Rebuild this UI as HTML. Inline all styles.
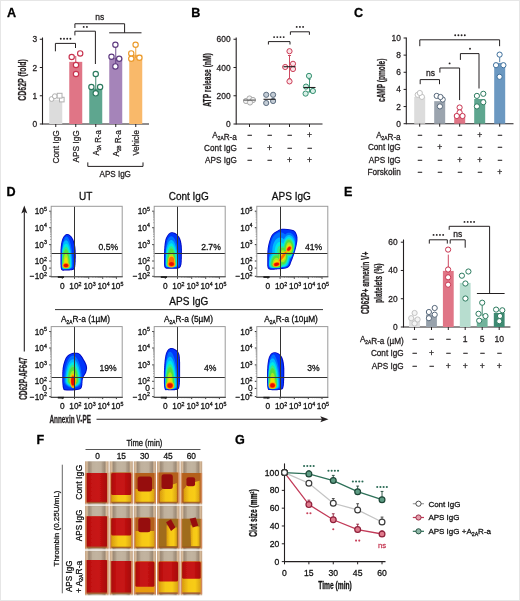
<!DOCTYPE html>
<html><head><meta charset="utf-8"><style>
html,body{margin:0;padding:0;background:#fff;}
svg{display:block;font-family:"Liberation Sans", sans-serif;will-change:transform;}
text{stroke-width:0.28px;stroke-linejoin:round;}
</style></head><body>
<svg width="520" height="601" viewBox="0 0 520 601" style="font-family:'Liberation Sans', sans-serif">
<defs>
<filter id="bl" x="-20%" y="-20%" width="140%" height="140%"><feGaussianBlur stdDeviation="0.6"/></filter>
<filter id="cb" x="-5%" y="-5%" width="110%" height="110%"><feGaussianBlur stdDeviation="0.45"/></filter>
<linearGradient id="tan" x1="0" x2="1" y1="0" y2="0">
<stop offset="0" stop-color="#c4a486"/><stop offset="0.09" stop-color="#d8bc9c"/><stop offset="0.16" stop-color="#9c8a76"/><stop offset="0.3" stop-color="#b6a692"/><stop offset="0.5" stop-color="#bcae9a"/><stop offset="0.7" stop-color="#b6a692"/><stop offset="0.84" stop-color="#9c8a76"/><stop offset="0.91" stop-color="#d8bc9c"/><stop offset="1" stop-color="#c0a082"/></linearGradient>
<linearGradient id="red" x1="0" x2="1" y1="0" y2="0">
<stop offset="0" stop-color="#a80a0a"/><stop offset="0.25" stop-color="#c41212"/><stop offset="0.6" stop-color="#c81414"/><stop offset="1" stop-color="#a60808"/></linearGradient>
<linearGradient id="yel" x1="0" x2="1" y1="0" y2="0">
<stop offset="0" stop-color="#d89a10"/><stop offset="0.35" stop-color="#f6c814"/><stop offset="0.7" stop-color="#f8cc18"/><stop offset="1" stop-color="#d8a010"/></linearGradient>
<linearGradient id="glass" x1="0" x2="1" y1="0" y2="0">
<stop offset="0" stop-color="#b8a48e"/><stop offset="0.5" stop-color="#cbbcac"/><stop offset="1" stop-color="#b8a48e"/></linearGradient>
</defs>
<rect x="0" y="0" width="520" height="601" fill="#fff"/>
<text x="7.00" y="16.70" font-size="12.6" text-anchor="start" font-weight="bold" fill="#000" stroke="#000" >A</text>
<line x1="42.50" y1="37.50" x2="42.50" y2="124.50" stroke="#231f20" stroke-width="1.1" />
<line x1="42.50" y1="124.00" x2="149.00" y2="124.00" stroke="#231f20" stroke-width="1.1" />
<line x1="39.80" y1="124.00" x2="42.50" y2="124.00" stroke="#231f20" stroke-width="1.0" />
<text x="37.20" y="127.00" font-size="8.4" text-anchor="end" font-weight="normal" fill="#231f20" stroke="#231f20" >0</text>
<line x1="39.80" y1="95.75" x2="42.50" y2="95.75" stroke="#231f20" stroke-width="1.0" />
<text x="37.20" y="98.75" font-size="8.4" text-anchor="end" font-weight="normal" fill="#231f20" stroke="#231f20" >1</text>
<line x1="39.80" y1="67.50" x2="42.50" y2="67.50" stroke="#231f20" stroke-width="1.0" />
<text x="37.20" y="70.50" font-size="8.4" text-anchor="end" font-weight="normal" fill="#231f20" stroke="#231f20" >2</text>
<line x1="39.80" y1="39.25" x2="42.50" y2="39.25" stroke="#231f20" stroke-width="1.0" />
<text x="37.20" y="42.25" font-size="8.4" text-anchor="end" font-weight="normal" fill="#231f20" stroke="#231f20" >3</text>
<text x="26.40" y="79.90" font-size="11" text-anchor="middle" font-weight="bold" fill="#231f20" stroke="#231f20" transform="rotate(-90 26.40 79.90)" textLength="41.6" lengthAdjust="spacingAndGlyphs" >CD62P (fold)</text>
<rect x="49.25" y="99.70" width="13.00" height="24.30" fill="#dcdcdc" />
<line x1="55.75" y1="124.00" x2="55.75" y2="127.00" stroke="#231f20" stroke-width="1.0" />
<rect x="69.25" y="61.85" width="13.00" height="62.15" fill="#e07586" />
<line x1="75.75" y1="124.00" x2="75.75" y2="127.00" stroke="#231f20" stroke-width="1.0" />
<rect x="89.25" y="88.69" width="13.00" height="35.31" fill="#5ea68f" />
<line x1="95.75" y1="124.00" x2="95.75" y2="127.00" stroke="#231f20" stroke-width="1.0" />
<rect x="109.25" y="57.89" width="13.00" height="66.11" fill="#a584b9" />
<line x1="115.75" y1="124.00" x2="115.75" y2="127.00" stroke="#231f20" stroke-width="1.0" />
<rect x="129.25" y="54.79" width="13.00" height="69.21" fill="#f9b96a" />
<line x1="135.75" y1="124.00" x2="135.75" y2="127.00" stroke="#231f20" stroke-width="1.0" />
<circle cx="51.60" cy="99.00" r="2.40" stroke="#b0b0b0" stroke-width="1.0" fill="#fff"/>
<circle cx="54.80" cy="96.20" r="2.40" stroke="#b0b0b0" stroke-width="1.0" fill="#fff"/>
<line x1="75.75" y1="56.00" x2="75.75" y2="66.00" stroke="#c8334f" stroke-width="0.9" />
<circle cx="80.20" cy="53.40" r="2.65" stroke="#c8334f" stroke-width="1.15" fill="#fff"/>
<circle cx="71.70" cy="57.00" r="2.65" stroke="#c8334f" stroke-width="1.15" fill="#fff"/>
<circle cx="76.00" cy="65.00" r="2.65" stroke="#c8334f" stroke-width="1.15" fill="#fff"/>
<circle cx="76.00" cy="74.00" r="2.65" stroke="#c8334f" stroke-width="1.15" fill="#fff"/>
<line x1="95.75" y1="74.00" x2="95.75" y2="95.00" stroke="#2b7a5e" stroke-width="0.9" />
<circle cx="95.75" cy="74.00" r="2.65" stroke="#2b7a5e" stroke-width="1.15" fill="#fff"/>
<circle cx="91.40" cy="87.00" r="2.65" stroke="#2b7a5e" stroke-width="1.15" fill="#fff"/>
<circle cx="100.10" cy="87.00" r="2.65" stroke="#2b7a5e" stroke-width="1.15" fill="#fff"/>
<circle cx="95.75" cy="93.30" r="2.65" stroke="#2b7a5e" stroke-width="1.15" fill="#fff"/>
<line x1="115.75" y1="44.70" x2="115.75" y2="66.00" stroke="#5e3a80" stroke-width="0.9" />
<circle cx="115.40" cy="44.70" r="2.65" stroke="#5e3a80" stroke-width="1.15" fill="#fff"/>
<circle cx="111.50" cy="56.75" r="2.65" stroke="#5e3a80" stroke-width="1.15" fill="#fff"/>
<circle cx="119.20" cy="58.70" r="2.65" stroke="#5e3a80" stroke-width="1.15" fill="#fff"/>
<circle cx="115.40" cy="66.40" r="2.65" stroke="#5e3a80" stroke-width="1.15" fill="#fff"/>
<line x1="135.75" y1="44.70" x2="135.75" y2="58.00" stroke="#eb9a2a" stroke-width="0.9" />
<circle cx="135.60" cy="44.70" r="2.65" stroke="#eb9a2a" stroke-width="1.15" fill="#fff"/>
<circle cx="131.25" cy="53.40" r="2.65" stroke="#eb9a2a" stroke-width="1.15" fill="#fff"/>
<circle cx="139.40" cy="57.70" r="2.65" stroke="#eb9a2a" stroke-width="1.15" fill="#fff"/>
<circle cx="131.25" cy="58.70" r="2.65" stroke="#eb9a2a" stroke-width="1.15" fill="#fff"/>
<rect x="59.5" y="97.3" width="4.6" height="4.6" fill="#fff" stroke="#b0b0b0" stroke-width="1.0"/>
<rect x="57.2" y="93.3" width="4.8" height="4.8" fill="#fff" stroke="#b0b0b0" stroke-width="1.0"/>
<text x="58.95" y="130.20" font-size="8.6" text-anchor="end" font-weight="normal" fill="#231f20" stroke="#231f20" transform="rotate(-90 58.95 130.20)" textLength="33.4" lengthAdjust="spacingAndGlyphs" >Cont IgG</text>
<text x="78.95" y="130.20" font-size="8.6" text-anchor="end" font-weight="normal" fill="#231f20" stroke="#231f20" transform="rotate(-90 78.95 130.20)" textLength="32.4" lengthAdjust="spacingAndGlyphs" >APS IgG</text>
<text x="98.95" y="130.20" font-size="8.6" text-anchor="end" font-weight="normal" fill="#231f20" stroke="#231f20" transform="rotate(-90 98.95 130.20)" textLength="25.3" lengthAdjust="spacingAndGlyphs" >A<tspan font-size="4.8" dy="1.8">2A</tspan><tspan dy="-1.8"></tspan> R-a</text>
<text x="118.95" y="130.20" font-size="8.6" text-anchor="end" font-weight="normal" fill="#231f20" stroke="#231f20" transform="rotate(-90 118.95 130.20)" textLength="26.3" lengthAdjust="spacingAndGlyphs" >A<tspan font-size="4.8" dy="1.8">2B</tspan><tspan dy="-1.8"></tspan> R-a</text>
<text x="138.95" y="130.20" font-size="8.6" text-anchor="end" font-weight="normal" fill="#231f20" stroke="#231f20" transform="rotate(-90 138.95 130.20)" textLength="25.3" lengthAdjust="spacingAndGlyphs" >Vehicle</text>
<polyline points="87.80,162.40 87.80,166.40 143.00,166.40 143.00,162.40" stroke="#231f20" stroke-width="1.0" fill="none"/>
<text x="115.20" y="176.60" font-size="8.3" text-anchor="middle" font-weight="normal" fill="#231f20" stroke="#231f20" textLength="31.4" lengthAdjust="spacingAndGlyphs" >APS IgG</text>
<polyline points="55.40,51.30 55.40,43.40 75.50,43.40 75.50,48.00" stroke="#231f20" stroke-width="1.0" fill="none"/>
<circle cx="60.80" cy="38.80" r="0.95" fill="#231f20"/>
<circle cx="64.00" cy="38.80" r="0.95" fill="#231f20"/>
<circle cx="67.20" cy="38.80" r="0.95" fill="#231f20"/>
<circle cx="70.40" cy="38.80" r="0.95" fill="#231f20"/>
<polyline points="74.90,35.40 74.90,31.20 95.40,31.20 95.40,64.00" stroke="#231f20" stroke-width="1.0" fill="none"/>
<circle cx="83.70" cy="26.90" r="0.95" fill="#231f20"/>
<circle cx="86.90" cy="26.90" r="0.95" fill="#231f20"/>
<polyline points="74.90,28.00 74.90,23.75 124.60,23.75 124.60,32.80" stroke="#231f20" stroke-width="1.0" fill="none"/>
<line x1="109.20" y1="32.80" x2="141.50" y2="32.80" stroke="#231f20" stroke-width="1.0" />
<text x="99.70" y="20.30" font-size="8.5" text-anchor="middle" font-weight="normal" fill="#231f20" stroke="#231f20" >ns</text>
<text x="191.20" y="16.70" font-size="12.6" text-anchor="start" font-weight="bold" fill="#000" stroke="#000" >B</text>
<line x1="236.20" y1="37.50" x2="236.20" y2="124.50" stroke="#231f20" stroke-width="1.1" />
<line x1="236.20" y1="124.00" x2="322.50" y2="124.00" stroke="#231f20" stroke-width="1.1" />
<line x1="233.50" y1="124.00" x2="236.20" y2="124.00" stroke="#231f20" stroke-width="1.0" />
<text x="230.60" y="127.00" font-size="8.4" text-anchor="end" font-weight="normal" fill="#231f20" stroke="#231f20" >0</text>
<line x1="233.50" y1="95.75" x2="236.20" y2="95.75" stroke="#231f20" stroke-width="1.0" />
<text x="230.60" y="98.75" font-size="8.4" text-anchor="end" font-weight="normal" fill="#231f20" stroke="#231f20" >200</text>
<line x1="233.50" y1="67.50" x2="236.20" y2="67.50" stroke="#231f20" stroke-width="1.0" />
<text x="230.60" y="70.50" font-size="8.4" text-anchor="end" font-weight="normal" fill="#231f20" stroke="#231f20" >400</text>
<line x1="233.50" y1="39.25" x2="236.20" y2="39.25" stroke="#231f20" stroke-width="1.0" />
<text x="230.60" y="42.25" font-size="8.4" text-anchor="end" font-weight="normal" fill="#231f20" stroke="#231f20" >600</text>
<text x="210.60" y="80.00" font-size="11" text-anchor="middle" font-weight="bold" fill="#231f20" stroke="#231f20" transform="rotate(-90 210.60 80.00)" textLength="53.4" lengthAdjust="spacingAndGlyphs" >ATP release (nM)</text>
<line x1="249.50" y1="124.00" x2="249.50" y2="127.00" stroke="#231f20" stroke-width="1.0" />
<line x1="269.50" y1="124.00" x2="269.50" y2="127.00" stroke="#231f20" stroke-width="1.0" />
<line x1="289.50" y1="124.00" x2="289.50" y2="127.00" stroke="#231f20" stroke-width="1.0" />
<line x1="309.50" y1="124.00" x2="309.50" y2="127.00" stroke="#231f20" stroke-width="1.0" />
<circle cx="246.00" cy="101.00" r="2.60" stroke="#a8a8a8" stroke-width="0.95" fill="#f2f2f2"/>
<circle cx="249.50" cy="98.50" r="2.60" stroke="#a8a8a8" stroke-width="0.95" fill="#f2f2f2"/>
<circle cx="253.00" cy="100.00" r="2.60" stroke="#a8a8a8" stroke-width="0.95" fill="#f2f2f2"/>
<circle cx="250.00" cy="102.50" r="2.60" stroke="#a8a8a8" stroke-width="0.95" fill="#f2f2f2"/>
<line x1="243.50" y1="100.10" x2="255.50" y2="100.10" stroke="#555" stroke-width="1.1" />
<circle cx="266.20" cy="94.80" r="2.60" stroke="#56677a" stroke-width="0.95" fill="#c3ccd5"/>
<circle cx="273.10" cy="94.80" r="2.60" stroke="#56677a" stroke-width="0.95" fill="#c3ccd5"/>
<circle cx="266.20" cy="103.00" r="2.60" stroke="#56677a" stroke-width="0.95" fill="#c3ccd5"/>
<circle cx="273.10" cy="101.00" r="2.60" stroke="#56677a" stroke-width="0.95" fill="#c3ccd5"/>
<line x1="263.50" y1="99.30" x2="275.50" y2="99.30" stroke="#231f20" stroke-width="1.1" />
<line x1="289.50" y1="55.50" x2="289.50" y2="78.80" stroke="#c8354f" stroke-width="0.9" />
<line x1="288.00" y1="55.50" x2="291.00" y2="55.50" stroke="#c8354f" stroke-width="0.9" />
<line x1="288.00" y1="78.80" x2="291.00" y2="78.80" stroke="#c8354f" stroke-width="0.9" />
<circle cx="289.50" cy="51.20" r="2.60" stroke="#c8354f" stroke-width="0.95" fill="#fbe4e8"/>
<circle cx="293.00" cy="63.80" r="2.60" stroke="#c8354f" stroke-width="0.95" fill="#fbe4e8"/>
<circle cx="285.20" cy="67.00" r="2.60" stroke="#c8354f" stroke-width="0.95" fill="#fbe4e8"/>
<circle cx="293.00" cy="69.00" r="2.60" stroke="#c8354f" stroke-width="0.95" fill="#fbe4e8"/>
<circle cx="289.50" cy="81.40" r="2.60" stroke="#c8354f" stroke-width="0.95" fill="#fbe4e8"/>
<line x1="283.50" y1="66.70" x2="295.50" y2="66.70" stroke="#231f20" stroke-width="1.1" />
<line x1="309.50" y1="79.00" x2="309.50" y2="92.00" stroke="#2a8a68" stroke-width="0.9" />
<line x1="308.00" y1="79.00" x2="311.00" y2="79.00" stroke="#2a8a68" stroke-width="0.9" />
<line x1="308.00" y1="92.00" x2="311.00" y2="92.00" stroke="#2a8a68" stroke-width="0.9" />
<circle cx="309.00" cy="75.90" r="2.60" stroke="#2a8a68" stroke-width="0.95" fill="#d8efe7"/>
<circle cx="306.00" cy="86.60" r="2.60" stroke="#2a8a68" stroke-width="0.95" fill="#d8efe7"/>
<circle cx="312.90" cy="91.00" r="2.60" stroke="#2a8a68" stroke-width="0.95" fill="#d8efe7"/>
<circle cx="305.60" cy="93.60" r="2.60" stroke="#2a8a68" stroke-width="0.95" fill="#d8efe7"/>
<line x1="303.50" y1="87.50" x2="315.50" y2="87.50" stroke="#231f20" stroke-width="1.1" />
<polyline points="268.40,44.50 268.40,41.60 290.00,41.60 290.00,44.50" stroke="#231f20" stroke-width="1.0" fill="none"/>
<circle cx="274.10" cy="37.10" r="0.95" fill="#231f20"/>
<circle cx="277.30" cy="37.10" r="0.95" fill="#231f20"/>
<circle cx="280.50" cy="37.10" r="0.95" fill="#231f20"/>
<circle cx="283.70" cy="37.10" r="0.95" fill="#231f20"/>
<polyline points="290.40,34.80 290.40,31.80 309.40,31.80 309.40,34.80" stroke="#231f20" stroke-width="1.0" fill="none"/>
<circle cx="296.70" cy="26.90" r="0.95" fill="#231f20"/>
<circle cx="299.90" cy="26.90" r="0.95" fill="#231f20"/>
<circle cx="303.10" cy="26.90" r="0.95" fill="#231f20"/>
<text x="236.90" y="137.80" font-size="8.2" text-anchor="end" font-weight="normal" fill="#231f20" stroke="#231f20" >A<tspan font-size="4.8" dy="1.8">2A</tspan><tspan dy="-1.8"></tspan>R-a</text>
<text x="249.50" y="137.80" font-size="8.6" text-anchor="middle" font-weight="normal" fill="#231f20" stroke="#231f20" >−</text>
<text x="269.50" y="137.80" font-size="8.6" text-anchor="middle" font-weight="normal" fill="#231f20" stroke="#231f20" >−</text>
<text x="289.50" y="137.80" font-size="8.6" text-anchor="middle" font-weight="normal" fill="#231f20" stroke="#231f20" >−</text>
<text x="309.50" y="137.80" font-size="8.6" text-anchor="middle" font-weight="normal" fill="#231f20" stroke="#231f20" >+</text>
<text x="236.90" y="150.80" font-size="8.2" text-anchor="end" font-weight="normal" fill="#231f20" stroke="#231f20" >Cont IgG</text>
<text x="249.50" y="150.80" font-size="8.6" text-anchor="middle" font-weight="normal" fill="#231f20" stroke="#231f20" >−</text>
<text x="269.50" y="150.80" font-size="8.6" text-anchor="middle" font-weight="normal" fill="#231f20" stroke="#231f20" >+</text>
<text x="289.50" y="150.80" font-size="8.6" text-anchor="middle" font-weight="normal" fill="#231f20" stroke="#231f20" >−</text>
<text x="309.50" y="150.80" font-size="8.6" text-anchor="middle" font-weight="normal" fill="#231f20" stroke="#231f20" >−</text>
<text x="236.90" y="163.30" font-size="8.2" text-anchor="end" font-weight="normal" fill="#231f20" stroke="#231f20" >APS IgG</text>
<text x="249.50" y="163.30" font-size="8.6" text-anchor="middle" font-weight="normal" fill="#231f20" stroke="#231f20" >−</text>
<text x="269.50" y="163.30" font-size="8.6" text-anchor="middle" font-weight="normal" fill="#231f20" stroke="#231f20" >−</text>
<text x="289.50" y="163.30" font-size="8.6" text-anchor="middle" font-weight="normal" fill="#231f20" stroke="#231f20" >+</text>
<text x="309.50" y="163.30" font-size="8.6" text-anchor="middle" font-weight="normal" fill="#231f20" stroke="#231f20" >+</text>
<text x="354.00" y="16.70" font-size="12.6" text-anchor="start" font-weight="bold" fill="#000" stroke="#000" >C</text>
<line x1="406.30" y1="37.50" x2="406.30" y2="124.20" stroke="#231f20" stroke-width="1.1" />
<line x1="406.30" y1="123.70" x2="513.50" y2="123.70" stroke="#231f20" stroke-width="1.1" />
<line x1="403.60" y1="123.70" x2="406.30" y2="123.70" stroke="#231f20" stroke-width="1.0" />
<text x="400.90" y="126.70" font-size="8.4" text-anchor="end" font-weight="normal" fill="#231f20" stroke="#231f20" >0</text>
<line x1="403.60" y1="106.56" x2="406.30" y2="106.56" stroke="#231f20" stroke-width="1.0" />
<text x="400.90" y="109.56" font-size="8.4" text-anchor="end" font-weight="normal" fill="#231f20" stroke="#231f20" >2</text>
<line x1="403.60" y1="89.42" x2="406.30" y2="89.42" stroke="#231f20" stroke-width="1.0" />
<text x="400.90" y="92.42" font-size="8.4" text-anchor="end" font-weight="normal" fill="#231f20" stroke="#231f20" >4</text>
<line x1="403.60" y1="72.28" x2="406.30" y2="72.28" stroke="#231f20" stroke-width="1.0" />
<text x="400.90" y="75.28" font-size="8.4" text-anchor="end" font-weight="normal" fill="#231f20" stroke="#231f20" >6</text>
<line x1="403.60" y1="55.14" x2="406.30" y2="55.14" stroke="#231f20" stroke-width="1.0" />
<text x="400.90" y="58.14" font-size="8.4" text-anchor="end" font-weight="normal" fill="#231f20" stroke="#231f20" >8</text>
<line x1="403.60" y1="38.00" x2="406.30" y2="38.00" stroke="#231f20" stroke-width="1.0" />
<text x="400.90" y="41.00" font-size="8.4" text-anchor="end" font-weight="normal" fill="#231f20" stroke="#231f20" >10</text>
<text x="385.50" y="80.30" font-size="11" text-anchor="middle" font-weight="bold" fill="#231f20" stroke="#231f20" transform="rotate(-90 385.50 80.30)" textLength="43.3" lengthAdjust="spacingAndGlyphs" >cAMP (pmole)</text>
<rect x="414.20" y="96.88" width="11.00" height="26.82" fill="#dcdcdc" />
<line x1="419.70" y1="123.70" x2="419.70" y2="126.70" stroke="#231f20" stroke-width="1.0" />
<circle cx="417.70" cy="94.80" r="2.60" stroke="#c0c0c0" stroke-width="1.0" fill="#fff"/>
<circle cx="421.90" cy="96.90" r="2.60" stroke="#c0c0c0" stroke-width="1.0" fill="#fff"/>
<circle cx="419.80" cy="93.00" r="2.60" stroke="#c0c0c0" stroke-width="1.0" fill="#fff"/>
<rect x="434.20" y="101.16" width="11.00" height="22.54" fill="#9ba4ae" />
<line x1="439.70" y1="123.70" x2="439.70" y2="126.70" stroke="#231f20" stroke-width="1.0" />
<circle cx="436.70" cy="95.90" r="2.60" stroke="#56677a" stroke-width="1.0" fill="#fff"/>
<circle cx="442.70" cy="99.50" r="2.60" stroke="#56677a" stroke-width="1.0" fill="#fff"/>
<circle cx="439.90" cy="106.40" r="2.60" stroke="#56677a" stroke-width="1.0" fill="#fff"/>
<circle cx="440.50" cy="97.00" r="2.60" stroke="#56677a" stroke-width="1.0" fill="#fff"/>
<rect x="454.20" y="113.93" width="11.00" height="9.77" fill="#e07586" />
<line x1="459.70" y1="123.70" x2="459.70" y2="126.70" stroke="#231f20" stroke-width="1.0" />
<circle cx="459.60" cy="107.50" r="2.60" stroke="#c8334f" stroke-width="1.0" fill="#fff"/>
<circle cx="459.60" cy="112.40" r="2.60" stroke="#c8334f" stroke-width="1.0" fill="#fff"/>
<circle cx="456.80" cy="116.00" r="2.60" stroke="#c8334f" stroke-width="1.0" fill="#fff"/>
<circle cx="462.50" cy="116.00" r="2.60" stroke="#c8334f" stroke-width="1.0" fill="#fff"/>
<rect x="474.20" y="99.02" width="11.00" height="24.68" fill="#5ea68f" />
<line x1="479.70" y1="123.70" x2="479.70" y2="126.70" stroke="#231f20" stroke-width="1.0" />
<circle cx="476.90" cy="95.90" r="2.60" stroke="#2b7a5e" stroke-width="1.0" fill="#fff"/>
<circle cx="483.30" cy="93.80" r="2.60" stroke="#2b7a5e" stroke-width="1.0" fill="#fff"/>
<circle cx="483.30" cy="102.20" r="2.60" stroke="#2b7a5e" stroke-width="1.0" fill="#fff"/>
<circle cx="476.90" cy="106.40" r="2.60" stroke="#2b7a5e" stroke-width="1.0" fill="#fff"/>
<rect x="494.20" y="62.85" width="11.00" height="60.85" fill="#6b98c1" />
<line x1="499.70" y1="123.70" x2="499.70" y2="126.70" stroke="#231f20" stroke-width="1.0" />
<line x1="499.70" y1="52.00" x2="499.70" y2="62.00" stroke="#3d6f9c" stroke-width="0.9" />
<circle cx="499.60" cy="54.60" r="2.60" stroke="#3d6f9c" stroke-width="1.0" fill="#fff"/>
<circle cx="496.00" cy="65.20" r="2.60" stroke="#3d6f9c" stroke-width="1.0" fill="#fff"/>
<circle cx="503.40" cy="65.20" r="2.60" stroke="#3d6f9c" stroke-width="1.0" fill="#fff"/>
<circle cx="499.60" cy="76.80" r="2.60" stroke="#3d6f9c" stroke-width="1.0" fill="#fff"/>
<polyline points="419.80,46.20 419.80,39.80 499.60,39.80 499.60,46.20" stroke="#231f20" stroke-width="1.0" fill="none"/>
<circle cx="455.20" cy="35.30" r="0.95" fill="#231f20"/>
<circle cx="458.40" cy="35.30" r="0.95" fill="#231f20"/>
<circle cx="461.60" cy="35.30" r="0.95" fill="#231f20"/>
<circle cx="464.80" cy="35.30" r="0.95" fill="#231f20"/>
<polyline points="460.40,59.90 460.40,53.60 479.00,53.60 479.00,88.50" stroke="#231f20" stroke-width="1.0" fill="none"/>
<circle cx="470.00" cy="48.80" r="0.95" fill="#231f20"/>
<polyline points="439.90,72.60 439.90,68.00 459.60,68.00 459.60,100.10" stroke="#231f20" stroke-width="1.0" fill="none"/>
<circle cx="449.60" cy="63.40" r="0.95" fill="#231f20"/>
<polyline points="420.20,84.20 420.20,79.60 439.50,79.60 439.50,84.20" stroke="#231f20" stroke-width="1.0" fill="none"/>
<text x="430.40" y="76.30" font-size="8.5" text-anchor="middle" font-weight="normal" fill="#231f20" stroke="#231f20" >ns</text>
<text x="400.70" y="138.00" font-size="8.2" text-anchor="end" font-weight="normal" fill="#231f20" stroke="#231f20" >A<tspan font-size="4.8" dy="1.8">2A</tspan><tspan dy="-1.8"></tspan>R-a</text>
<text x="419.70" y="138.00" font-size="8.6" text-anchor="middle" font-weight="normal" fill="#231f20" stroke="#231f20" >−</text>
<text x="439.70" y="138.00" font-size="8.6" text-anchor="middle" font-weight="normal" fill="#231f20" stroke="#231f20" >−</text>
<text x="459.70" y="138.00" font-size="8.6" text-anchor="middle" font-weight="normal" fill="#231f20" stroke="#231f20" >−</text>
<text x="479.70" y="138.00" font-size="8.6" text-anchor="middle" font-weight="normal" fill="#231f20" stroke="#231f20" >+</text>
<text x="499.70" y="138.00" font-size="8.6" text-anchor="middle" font-weight="normal" fill="#231f20" stroke="#231f20" >−</text>
<text x="400.70" y="150.30" font-size="8.2" text-anchor="end" font-weight="normal" fill="#231f20" stroke="#231f20" >Cont IgG</text>
<text x="419.70" y="150.30" font-size="8.6" text-anchor="middle" font-weight="normal" fill="#231f20" stroke="#231f20" >−</text>
<text x="439.70" y="150.30" font-size="8.6" text-anchor="middle" font-weight="normal" fill="#231f20" stroke="#231f20" >+</text>
<text x="459.70" y="150.30" font-size="8.6" text-anchor="middle" font-weight="normal" fill="#231f20" stroke="#231f20" >−</text>
<text x="479.70" y="150.30" font-size="8.6" text-anchor="middle" font-weight="normal" fill="#231f20" stroke="#231f20" >−</text>
<text x="499.70" y="150.30" font-size="8.6" text-anchor="middle" font-weight="normal" fill="#231f20" stroke="#231f20" >−</text>
<text x="400.70" y="162.80" font-size="8.2" text-anchor="end" font-weight="normal" fill="#231f20" stroke="#231f20" >APS IgG</text>
<text x="419.70" y="162.80" font-size="8.6" text-anchor="middle" font-weight="normal" fill="#231f20" stroke="#231f20" >−</text>
<text x="439.70" y="162.80" font-size="8.6" text-anchor="middle" font-weight="normal" fill="#231f20" stroke="#231f20" >−</text>
<text x="459.70" y="162.80" font-size="8.6" text-anchor="middle" font-weight="normal" fill="#231f20" stroke="#231f20" >+</text>
<text x="479.70" y="162.80" font-size="8.6" text-anchor="middle" font-weight="normal" fill="#231f20" stroke="#231f20" >+</text>
<text x="499.70" y="162.80" font-size="8.6" text-anchor="middle" font-weight="normal" fill="#231f20" stroke="#231f20" >−</text>
<text x="400.70" y="175.20" font-size="8.2" text-anchor="end" font-weight="normal" fill="#231f20" stroke="#231f20" >Forskolin</text>
<text x="419.70" y="175.20" font-size="8.6" text-anchor="middle" font-weight="normal" fill="#231f20" stroke="#231f20" >−</text>
<text x="439.70" y="175.20" font-size="8.6" text-anchor="middle" font-weight="normal" fill="#231f20" stroke="#231f20" >−</text>
<text x="459.70" y="175.20" font-size="8.6" text-anchor="middle" font-weight="normal" fill="#231f20" stroke="#231f20" >−</text>
<text x="479.70" y="175.20" font-size="8.6" text-anchor="middle" font-weight="normal" fill="#231f20" stroke="#231f20" >−</text>
<text x="499.70" y="175.20" font-size="8.6" text-anchor="middle" font-weight="normal" fill="#231f20" stroke="#231f20" >+</text>
<text x="344.00" y="195.70" font-size="12.6" text-anchor="start" font-weight="bold" fill="#000" stroke="#000" >E</text>
<line x1="403.50" y1="239.50" x2="403.50" y2="327.50" stroke="#231f20" stroke-width="1.1" />
<line x1="403.50" y1="327.00" x2="510.40" y2="327.00" stroke="#231f20" stroke-width="1.1" />
<line x1="400.80" y1="327.00" x2="403.50" y2="327.00" stroke="#231f20" stroke-width="1.0" />
<text x="397.60" y="330.00" font-size="8.4" text-anchor="end" font-weight="normal" fill="#231f20" stroke="#231f20" >0</text>
<line x1="400.80" y1="298.73" x2="403.50" y2="298.73" stroke="#231f20" stroke-width="1.0" />
<text x="397.60" y="301.73" font-size="8.4" text-anchor="end" font-weight="normal" fill="#231f20" stroke="#231f20" >20</text>
<line x1="400.80" y1="270.47" x2="403.50" y2="270.47" stroke="#231f20" stroke-width="1.0" />
<text x="397.60" y="273.47" font-size="8.4" text-anchor="end" font-weight="normal" fill="#231f20" stroke="#231f20" >40</text>
<line x1="400.80" y1="242.20" x2="403.50" y2="242.20" stroke="#231f20" stroke-width="1.0" />
<text x="397.60" y="245.20" font-size="8.4" text-anchor="end" font-weight="normal" fill="#231f20" stroke="#231f20" >60</text>
<text x="369.40" y="282.80" font-size="10.5" text-anchor="middle" font-weight="bold" fill="#231f20" stroke="#231f20" transform="rotate(-90 369.40 282.80)" textLength="62.4" lengthAdjust="spacingAndGlyphs" >CD62P+ annexin V+</text>
<text x="381.80" y="283.20" font-size="10.5" text-anchor="middle" font-weight="bold" fill="#231f20" stroke="#231f20" transform="rotate(-90 381.80 283.20)" textLength="39.6" lengthAdjust="spacingAndGlyphs" >platelets (%)</text>
<rect x="409.10" y="318.24" width="10.80" height="8.76" fill="#e0e0e0" />
<line x1="414.50" y1="327.00" x2="414.50" y2="330.00" stroke="#231f20" stroke-width="1.0" />
<circle cx="414.60" cy="313.00" r="2.60" stroke="#c4c4c4" stroke-width="1.0" fill="#f4f4f4"/>
<circle cx="411.20" cy="318.20" r="2.60" stroke="#c4c4c4" stroke-width="1.0" fill="#f4f4f4"/>
<circle cx="417.60" cy="319.50" r="2.60" stroke="#c4c4c4" stroke-width="1.0" fill="#f4f4f4"/>
<circle cx="414.60" cy="323.50" r="2.60" stroke="#c4c4c4" stroke-width="1.0" fill="#f4f4f4"/>
<rect x="426.10" y="314.56" width="10.80" height="12.44" fill="#98a2ac" />
<line x1="431.50" y1="327.00" x2="431.50" y2="330.00" stroke="#231f20" stroke-width="1.0" />
<circle cx="428.90" cy="312.00" r="2.60" stroke="#56677a" stroke-width="1.0" fill="#fff"/>
<circle cx="434.70" cy="308.00" r="2.60" stroke="#56677a" stroke-width="1.0" fill="#fff"/>
<circle cx="434.70" cy="314.70" r="2.60" stroke="#56677a" stroke-width="1.0" fill="#fff"/>
<circle cx="428.90" cy="318.20" r="2.60" stroke="#56677a" stroke-width="1.0" fill="#fff"/>
<rect x="442.90" y="270.89" width="10.80" height="56.11" fill="#e07586" />
<line x1="448.30" y1="327.00" x2="448.30" y2="330.00" stroke="#231f20" stroke-width="1.0" />
<line x1="448.30" y1="254.60" x2="448.30" y2="268.00" stroke="#c8334f" stroke-width="0.9" />
<circle cx="448.10" cy="249.60" r="2.60" stroke="#c8334f" stroke-width="1.0" fill="#fff"/>
<circle cx="448.10" cy="269.50" r="2.60" stroke="#c8334f" stroke-width="1.0" fill="#fff"/>
<circle cx="448.10" cy="277.30" r="2.60" stroke="#c8334f" stroke-width="1.0" fill="#fff"/>
<circle cx="448.10" cy="284.70" r="2.60" stroke="#c8334f" stroke-width="1.0" fill="#fff"/>
<rect x="459.80" y="282.90" width="10.80" height="44.10" fill="#b7ddcf" />
<line x1="465.20" y1="327.00" x2="465.20" y2="330.00" stroke="#231f20" stroke-width="1.0" />
<circle cx="468.40" cy="271.50" r="2.60" stroke="#2b7a5e" stroke-width="1.0" fill="#fff"/>
<circle cx="461.90" cy="275.70" r="2.60" stroke="#2b7a5e" stroke-width="1.0" fill="#fff"/>
<circle cx="465.40" cy="283.50" r="2.60" stroke="#2b7a5e" stroke-width="1.0" fill="#fff"/>
<circle cx="465.40" cy="298.50" r="2.60" stroke="#2b7a5e" stroke-width="1.0" fill="#fff"/>
<rect x="476.80" y="318.80" width="10.80" height="8.20" fill="#72b39b" />
<line x1="482.20" y1="327.00" x2="482.20" y2="330.00" stroke="#231f20" stroke-width="1.0" />
<line x1="482.20" y1="305.00" x2="482.20" y2="316.00" stroke="#2b7a5e" stroke-width="0.9" />
<circle cx="482.20" cy="302.70" r="2.60" stroke="#2b7a5e" stroke-width="1.0" fill="#fff"/>
<circle cx="478.50" cy="313.80" r="2.60" stroke="#2b7a5e" stroke-width="1.0" fill="#fff"/>
<circle cx="485.50" cy="316.10" r="2.60" stroke="#2b7a5e" stroke-width="1.0" fill="#fff"/>
<circle cx="479.20" cy="320.70" r="2.60" stroke="#2b7a5e" stroke-width="1.0" fill="#fff"/>
<rect x="493.80" y="313.01" width="10.80" height="13.99" fill="#3e8a72" />
<line x1="499.20" y1="327.00" x2="499.20" y2="330.00" stroke="#231f20" stroke-width="1.0" />
<circle cx="496.10" cy="309.60" r="2.60" stroke="#2b7a5e" stroke-width="1.0" fill="#fff"/>
<circle cx="502.30" cy="310.30" r="2.60" stroke="#2b7a5e" stroke-width="1.0" fill="#fff"/>
<circle cx="500.00" cy="316.00" r="2.60" stroke="#2b7a5e" stroke-width="1.0" fill="#fff"/>
<circle cx="499.30" cy="321.20" r="2.60" stroke="#2b7a5e" stroke-width="1.0" fill="#fff"/>
<polyline points="429.30,243.60 429.30,239.80 447.30,239.80 447.30,243.60" stroke="#231f20" stroke-width="1.0" fill="none"/>
<circle cx="433.55" cy="234.90" r="0.95" fill="#231f20"/>
<circle cx="436.75" cy="234.90" r="0.95" fill="#231f20"/>
<circle cx="439.95" cy="234.90" r="0.95" fill="#231f20"/>
<circle cx="443.15" cy="234.90" r="0.95" fill="#231f20"/>
<polyline points="450.20,243.60 450.20,239.80 465.20,239.80 465.20,247.70" stroke="#231f20" stroke-width="1.0" fill="none"/>
<text x="457.80" y="236.80" font-size="8.5" text-anchor="middle" font-weight="normal" fill="#231f20" stroke="#231f20" >ns</text>
<polyline points="449.20,229.80 449.20,226.30 489.60,226.30 489.60,293.50" stroke="#231f20" stroke-width="1.0" fill="none"/>
<line x1="476.90" y1="293.50" x2="504.60" y2="293.50" stroke="#231f20" stroke-width="1.0" />
<circle cx="464.50" cy="221.90" r="0.95" fill="#231f20"/>
<circle cx="467.70" cy="221.90" r="0.95" fill="#231f20"/>
<circle cx="470.90" cy="221.90" r="0.95" fill="#231f20"/>
<circle cx="474.10" cy="221.90" r="0.95" fill="#231f20"/>
<text x="403.70" y="342.00" font-size="8.2" text-anchor="end" font-weight="normal" fill="#231f20" stroke="#231f20" >A<tspan font-size="4.8" dy="1.8">2A</tspan><tspan dy="-1.8"></tspan>R-a (µM)</text>
<text x="414.50" y="342.00" font-size="8.6" text-anchor="middle" font-weight="normal" fill="#231f20" stroke="#231f20" >−</text>
<text x="431.50" y="342.00" font-size="8.6" text-anchor="middle" font-weight="normal" fill="#231f20" stroke="#231f20" >−</text>
<text x="448.30" y="342.00" font-size="8.6" text-anchor="middle" font-weight="normal" fill="#231f20" stroke="#231f20" >−</text>
<text x="465.20" y="342.00" font-size="8.6" text-anchor="middle" font-weight="normal" fill="#231f20" stroke="#231f20" >1</text>
<text x="482.20" y="342.00" font-size="8.6" text-anchor="middle" font-weight="normal" fill="#231f20" stroke="#231f20" >5</text>
<text x="499.20" y="342.00" font-size="8.6" text-anchor="middle" font-weight="normal" fill="#231f20" stroke="#231f20" >10</text>
<text x="403.70" y="356.40" font-size="8.2" text-anchor="end" font-weight="normal" fill="#231f20" stroke="#231f20" >Cont IgG</text>
<text x="414.50" y="356.40" font-size="8.6" text-anchor="middle" font-weight="normal" fill="#231f20" stroke="#231f20" >−</text>
<text x="431.50" y="356.40" font-size="8.6" text-anchor="middle" font-weight="normal" fill="#231f20" stroke="#231f20" >+</text>
<text x="448.30" y="356.40" font-size="8.6" text-anchor="middle" font-weight="normal" fill="#231f20" stroke="#231f20" >−</text>
<text x="465.20" y="356.40" font-size="8.6" text-anchor="middle" font-weight="normal" fill="#231f20" stroke="#231f20" >−</text>
<text x="482.20" y="356.40" font-size="8.6" text-anchor="middle" font-weight="normal" fill="#231f20" stroke="#231f20" >−</text>
<text x="499.20" y="356.40" font-size="8.6" text-anchor="middle" font-weight="normal" fill="#231f20" stroke="#231f20" >−</text>
<text x="403.70" y="368.80" font-size="8.2" text-anchor="end" font-weight="normal" fill="#231f20" stroke="#231f20" >APS IgG</text>
<text x="414.50" y="368.80" font-size="8.6" text-anchor="middle" font-weight="normal" fill="#231f20" stroke="#231f20" >−</text>
<text x="431.50" y="368.80" font-size="8.6" text-anchor="middle" font-weight="normal" fill="#231f20" stroke="#231f20" >−</text>
<text x="448.30" y="368.80" font-size="8.6" text-anchor="middle" font-weight="normal" fill="#231f20" stroke="#231f20" >+</text>
<text x="465.20" y="368.80" font-size="8.6" text-anchor="middle" font-weight="normal" fill="#231f20" stroke="#231f20" >+</text>
<text x="482.20" y="368.80" font-size="8.6" text-anchor="middle" font-weight="normal" fill="#231f20" stroke="#231f20" >+</text>
<text x="499.20" y="368.80" font-size="8.6" text-anchor="middle" font-weight="normal" fill="#231f20" stroke="#231f20" >+</text>
<text x="6.60" y="195.70" font-size="12.6" text-anchor="start" font-weight="bold" fill="#000" stroke="#000" >D</text>
<line x1="24.30" y1="212.00" x2="24.30" y2="351.50" stroke="#231f20" stroke-width="1.1" />
<path d="M24.3,205.5 L21.3,213.5 L24.3,211.8 L27.3,213.5 Z" fill="#231f20"/>
<text x="27.30" y="378.60" font-size="10.5" text-anchor="middle" font-weight="bold" fill="#231f20" stroke="#231f20" transform="rotate(-90 27.30 378.60)" textLength="42.5" lengthAdjust="spacingAndGlyphs" >CD62P-AF647</text>
<text x="49.40" y="423.00" font-size="10.5" text-anchor="start" font-weight="bold" fill="#231f20" stroke="#231f20" textLength="41.5" lengthAdjust="spacingAndGlyphs" >Annexin V-PE</text>
<line x1="96.50" y1="419.20" x2="322.00" y2="419.20" stroke="#231f20" stroke-width="1.1" />
<path d="M328.5,419.3 L320.3,416.3 L322,419.3 L320.3,422.3 Z" fill="#231f20"/>
<rect x="51.20" y="206.30" width="71.00" height="70.50" fill="#fff"/>
<line x1="49.20" y1="211.20" x2="51.20" y2="211.20" stroke="#333" stroke-width="1.0" />
<text x="46.90" y="214.20" font-size="8.3" text-anchor="end" font-weight="normal" fill="#111" stroke="#111" >10<tspan font-size="5.3" dy="-3.4">5</tspan></text>
<line x1="49.20" y1="227.70" x2="51.20" y2="227.70" stroke="#333" stroke-width="1.0" />
<text x="46.90" y="230.70" font-size="8.3" text-anchor="end" font-weight="normal" fill="#111" stroke="#111" >10<tspan font-size="5.3" dy="-3.4">4</tspan></text>
<line x1="49.20" y1="244.60" x2="51.20" y2="244.60" stroke="#333" stroke-width="1.0" />
<text x="46.90" y="247.60" font-size="8.3" text-anchor="end" font-weight="normal" fill="#111" stroke="#111" >10<tspan font-size="5.3" dy="-3.4">3</tspan></text>
<line x1="49.20" y1="261.00" x2="51.20" y2="261.00" stroke="#333" stroke-width="1.0" />
<text x="46.90" y="264.00" font-size="8.3" text-anchor="end" font-weight="normal" fill="#111" stroke="#111" >10<tspan font-size="5.3" dy="-3.4">2</tspan></text>
<line x1="49.20" y1="268.10" x2="51.20" y2="268.10" stroke="#333" stroke-width="1.0" />
<text x="46.90" y="271.10" font-size="8.3" text-anchor="end" font-weight="normal" fill="#111" stroke="#111" >0</text>
<line x1="49.20" y1="276.30" x2="51.20" y2="276.30" stroke="#333" stroke-width="1.0" />
<text x="46.90" y="279.30" font-size="8.3" text-anchor="end" font-weight="normal" fill="#111" stroke="#111" >−10<tspan font-size="5.3" dy="-3.4">2</tspan></text>
<line x1="50.10" y1="222.73" x2="51.20" y2="222.73" stroke="#777" stroke-width="0.7" />
<line x1="50.10" y1="219.83" x2="51.20" y2="219.83" stroke="#777" stroke-width="0.7" />
<line x1="50.10" y1="217.77" x2="51.20" y2="217.77" stroke="#777" stroke-width="0.7" />
<line x1="50.10" y1="216.17" x2="51.20" y2="216.17" stroke="#777" stroke-width="0.7" />
<line x1="50.10" y1="214.86" x2="51.20" y2="214.86" stroke="#777" stroke-width="0.7" />
<line x1="50.10" y1="213.76" x2="51.20" y2="213.76" stroke="#777" stroke-width="0.7" />
<line x1="50.10" y1="212.80" x2="51.20" y2="212.80" stroke="#777" stroke-width="0.7" />
<line x1="50.10" y1="211.95" x2="51.20" y2="211.95" stroke="#777" stroke-width="0.7" />
<line x1="50.10" y1="239.51" x2="51.20" y2="239.51" stroke="#777" stroke-width="0.7" />
<line x1="50.10" y1="236.54" x2="51.20" y2="236.54" stroke="#777" stroke-width="0.7" />
<line x1="50.10" y1="234.43" x2="51.20" y2="234.43" stroke="#777" stroke-width="0.7" />
<line x1="50.10" y1="232.79" x2="51.20" y2="232.79" stroke="#777" stroke-width="0.7" />
<line x1="50.10" y1="231.45" x2="51.20" y2="231.45" stroke="#777" stroke-width="0.7" />
<line x1="50.10" y1="230.32" x2="51.20" y2="230.32" stroke="#777" stroke-width="0.7" />
<line x1="50.10" y1="229.34" x2="51.20" y2="229.34" stroke="#777" stroke-width="0.7" />
<line x1="50.10" y1="228.47" x2="51.20" y2="228.47" stroke="#777" stroke-width="0.7" />
<line x1="50.10" y1="256.06" x2="51.20" y2="256.06" stroke="#777" stroke-width="0.7" />
<line x1="50.10" y1="253.18" x2="51.20" y2="253.18" stroke="#777" stroke-width="0.7" />
<line x1="50.10" y1="251.13" x2="51.20" y2="251.13" stroke="#777" stroke-width="0.7" />
<line x1="50.10" y1="249.54" x2="51.20" y2="249.54" stroke="#777" stroke-width="0.7" />
<line x1="50.10" y1="248.24" x2="51.20" y2="248.24" stroke="#777" stroke-width="0.7" />
<line x1="50.10" y1="247.14" x2="51.20" y2="247.14" stroke="#777" stroke-width="0.7" />
<line x1="50.10" y1="246.19" x2="51.20" y2="246.19" stroke="#777" stroke-width="0.7" />
<line x1="50.10" y1="245.35" x2="51.20" y2="245.35" stroke="#777" stroke-width="0.7" />
<line x1="62.30" y1="276.80" x2="62.30" y2="278.80" stroke="#333" stroke-width="1.0" />
<text x="62.30" y="289.10" font-size="8.3" text-anchor="middle" font-weight="normal" fill="#111" stroke="#111" >0</text>
<line x1="74.50" y1="276.80" x2="74.50" y2="278.80" stroke="#333" stroke-width="1.0" />
<text x="75.40" y="289.10" font-size="8.3" text-anchor="middle" font-weight="normal" fill="#111" stroke="#111" >10<tspan font-size="5.3" dy="-3.4">2</tspan></text>
<line x1="88.70" y1="276.80" x2="88.70" y2="278.80" stroke="#333" stroke-width="1.0" />
<text x="89.60" y="289.10" font-size="8.3" text-anchor="middle" font-weight="normal" fill="#111" stroke="#111" >10<tspan font-size="5.3" dy="-3.4">3</tspan></text>
<line x1="102.70" y1="276.80" x2="102.70" y2="278.80" stroke="#333" stroke-width="1.0" />
<text x="103.60" y="289.10" font-size="8.3" text-anchor="middle" font-weight="normal" fill="#111" stroke="#111" >10<tspan font-size="5.3" dy="-3.4">4</tspan></text>
<line x1="116.40" y1="276.80" x2="116.40" y2="278.80" stroke="#333" stroke-width="1.0" />
<text x="117.30" y="289.10" font-size="8.3" text-anchor="middle" font-weight="normal" fill="#111" stroke="#111" >10<tspan font-size="5.3" dy="-3.4">5</tspan></text>
<line x1="78.77" y1="276.80" x2="78.77" y2="277.90" stroke="#777" stroke-width="0.7" />
<line x1="81.28" y1="276.80" x2="81.28" y2="277.90" stroke="#777" stroke-width="0.7" />
<line x1="83.05" y1="276.80" x2="83.05" y2="277.90" stroke="#777" stroke-width="0.7" />
<line x1="84.43" y1="276.80" x2="84.43" y2="277.90" stroke="#777" stroke-width="0.7" />
<line x1="85.55" y1="276.80" x2="85.55" y2="277.90" stroke="#777" stroke-width="0.7" />
<line x1="86.50" y1="276.80" x2="86.50" y2="277.90" stroke="#777" stroke-width="0.7" />
<line x1="87.32" y1="276.80" x2="87.32" y2="277.90" stroke="#777" stroke-width="0.7" />
<line x1="88.05" y1="276.80" x2="88.05" y2="277.90" stroke="#777" stroke-width="0.7" />
<line x1="92.91" y1="276.80" x2="92.91" y2="277.90" stroke="#777" stroke-width="0.7" />
<line x1="95.38" y1="276.80" x2="95.38" y2="277.90" stroke="#777" stroke-width="0.7" />
<line x1="97.13" y1="276.80" x2="97.13" y2="277.90" stroke="#777" stroke-width="0.7" />
<line x1="98.49" y1="276.80" x2="98.49" y2="277.90" stroke="#777" stroke-width="0.7" />
<line x1="99.59" y1="276.80" x2="99.59" y2="277.90" stroke="#777" stroke-width="0.7" />
<line x1="100.53" y1="276.80" x2="100.53" y2="277.90" stroke="#777" stroke-width="0.7" />
<line x1="101.34" y1="276.80" x2="101.34" y2="277.90" stroke="#777" stroke-width="0.7" />
<line x1="102.06" y1="276.80" x2="102.06" y2="277.90" stroke="#777" stroke-width="0.7" />
<line x1="106.82" y1="276.80" x2="106.82" y2="277.90" stroke="#777" stroke-width="0.7" />
<line x1="109.24" y1="276.80" x2="109.24" y2="277.90" stroke="#777" stroke-width="0.7" />
<line x1="110.95" y1="276.80" x2="110.95" y2="277.90" stroke="#777" stroke-width="0.7" />
<line x1="112.28" y1="276.80" x2="112.28" y2="277.90" stroke="#777" stroke-width="0.7" />
<line x1="113.36" y1="276.80" x2="113.36" y2="277.90" stroke="#777" stroke-width="0.7" />
<line x1="114.28" y1="276.80" x2="114.28" y2="277.90" stroke="#777" stroke-width="0.7" />
<line x1="115.07" y1="276.80" x2="115.07" y2="277.90" stroke="#777" stroke-width="0.7" />
<line x1="115.77" y1="276.80" x2="115.77" y2="277.90" stroke="#777" stroke-width="0.7" />
<g filter="url(#bl)">
<polygon points="63.85,270.64 62.73,270.64 62.60,270.51 62.23,270.51 61.26,269.67 60.88,268.67 60.75,267.42 60.63,267.30 60.63,264.80 60.50,264.67 60.51,249.17 60.63,249.05 60.76,246.30 60.88,246.17 60.88,245.30 61.01,245.17 61.13,243.55 61.26,243.42 61.26,242.92 61.38,242.80 61.38,242.30 61.51,242.17 61.51,241.67 61.76,241.05 61.76,240.67 61.89,240.55 61.89,240.17 62.26,239.30 62.26,239.05 62.51,238.67 62.51,238.42 63.01,237.42 63.76,236.30 65.48,234.58 66.60,233.96 67.98,233.96 69.10,234.46 69.85,234.96 70.93,235.92 70.93,236.05 71.68,236.80 72.30,237.67 73.43,239.80 73.43,240.05 73.92,241.05 73.92,241.30 74.42,242.55 74.80,244.42 74.92,244.55 74.92,245.05 75.05,245.17 75.05,245.67 75.17,245.80 75.17,246.42 75.30,246.55 75.30,247.30 75.42,247.42 75.42,248.55 75.55,248.67 75.55,250.17 75.67,250.30 75.67,254.05 75.80,254.17 75.80,258.42 75.67,258.55 75.67,262.05 75.55,262.17 75.43,265.05 75.30,265.17 75.18,267.05 75.05,267.17 74.93,268.30 74.68,268.80 74.10,269.37 73.10,269.88 72.10,270.01 71.98,270.13 71.23,270.13 71.10,270.26 69.85,270.26 69.73,270.39 65.35,270.39 65.23,270.52 63.98,270.52 63.85,270.64" fill="#0008c0"/>
<polygon points="63.60,270.07 62.48,269.91 61.85,269.42 61.42,268.42 61.11,267.05 61.09,264.80 60.97,264.42 60.99,259.05 61.08,249.42 61.20,249.05 61.22,247.67 61.75,243.80 62.14,241.92 62.52,240.42 63.16,238.67 64.43,236.55 65.73,235.28 66.85,234.65 67.60,234.65 68.73,235.13 69.50,235.67 70.85,237.09 71.51,238.05 72.47,239.92 73.05,241.42 74.00,244.92 74.61,249.05 74.63,250.30 74.74,250.67 74.77,254.05 74.89,254.55 74.82,261.67 74.60,264.67 74.36,266.67 74.05,268.05 73.73,268.55 72.85,269.07 71.60,269.44 69.48,269.80 65.35,269.88 63.60,270.07" fill="#0436fa"/>
<polygon points="67.10,269.05 63.35,269.13 62.71,268.92 62.32,268.17 61.93,266.80 61.77,264.17 62.06,249.67 62.84,244.05 63.69,240.67 64.31,239.05 65.46,237.30 66.60,236.40 67.23,236.76 67.73,237.23 68.90,239.05 69.95,241.67 70.87,245.05 71.66,249.17 72.24,253.67 72.63,258.55 72.81,263.55 72.75,266.30 72.45,267.30 72.01,268.05 70.60,268.55 69.23,268.87 67.10,269.05" fill="#0070ff"/>
<polygon points="64.85,268.94 63.35,268.93 62.85,268.78 62.33,267.67 62.11,266.80 61.94,264.17 61.96,262.05 62.27,249.80 62.76,245.92 63.35,243.03 63.98,241.87 64.73,240.93 65.35,240.49 66.10,240.34 66.73,240.53 67.23,240.89 67.85,241.61 68.35,242.43 69.35,244.82 70.21,247.92 70.91,251.67 71.45,256.05 71.78,260.80 71.88,265.67 71.77,266.42 71.50,267.17 70.98,268.01 70.62,268.30 68.48,268.76 64.85,268.94" fill="#00b8ff"/>
<polygon points="67.60,268.68 64.73,268.79 63.10,268.67 62.93,268.55 62.52,267.67 62.22,266.17 62.11,264.17 62.14,260.42 62.48,249.81 63.23,247.26 64.10,245.31 64.98,244.18 65.48,243.85 65.98,243.74 66.48,243.83 66.85,244.04 67.60,244.84 68.35,246.20 69.08,248.17 69.69,250.55 70.21,253.30 70.90,259.67 71.08,265.55 70.87,266.67 70.39,267.55 69.69,268.30 69.10,268.50 67.60,268.68" fill="#00e8e8"/>
<polygon points="67.23,268.55 64.60,268.63 63.60,268.45 62.85,267.96 62.73,267.72 62.42,266.67 62.37,266.05 62.29,261.17 62.55,253.80 63.25,250.80 64.10,248.52 64.98,247.19 65.48,246.81 65.98,246.67 66.73,246.93 67.48,247.76 68.10,248.96 68.73,250.72 69.25,252.80 69.70,255.30 70.27,261.05 70.40,265.55 70.20,266.55 69.68,267.42 68.85,268.18 68.45,268.42 67.23,268.55" fill="#30e890"/>
<polygon points="66.98,268.43 64.85,268.39 63.85,268.00 63.06,267.42 62.58,266.67 62.41,264.05 62.48,259.47 62.83,256.55 63.35,253.87 63.96,251.80 64.60,250.40 65.23,249.60 65.98,249.26 66.60,249.46 67.23,250.13 67.84,251.30 68.35,252.74 69.20,256.80 69.70,261.92 69.80,265.55 69.62,266.42 69.23,267.10 68.60,267.71 67.85,268.15 66.98,268.43" fill="#50e040"/>
<polygon points="66.48,267.68 65.23,267.63 64.23,267.20 63.48,266.42 63.23,265.55 63.43,261.05 64.03,257.17 64.48,255.59 64.94,254.55 65.48,253.85 65.98,253.64 66.48,253.81 66.98,254.40 67.78,256.42 68.41,259.67 68.74,263.67 68.76,265.67 68.52,266.42 67.73,267.24 66.48,267.68" fill="#a8e820"/>
<polygon points="66.73,266.92 65.85,267.03 64.98,266.80 64.35,266.29 64.08,265.55 64.22,262.42 64.61,259.80 65.23,257.97 65.60,257.45 65.98,257.27 66.35,257.41 66.60,257.69 67.10,258.76 67.53,260.55 67.83,262.92 67.89,265.80 67.48,266.48 66.73,266.92" fill="#f0e000"/>
<ellipse cx="66" cy="265.5" rx="3.60" ry="2.80" transform="rotate(0 66 265.5)" fill="#ffc000"/>
<ellipse cx="66" cy="265.5" rx="2.88" ry="2.24" transform="rotate(0 66 265.5)" fill="#ff7000"/>
<ellipse cx="66" cy="265.5" rx="2.23" ry="1.74" transform="rotate(0 66 265.5)" fill="#e81000"/>
</g>
<line x1="74.50" y1="206.30" x2="74.50" y2="276.80" stroke="#333" stroke-width="1.0" />
<line x1="51.20" y1="253.50" x2="122.20" y2="253.50" stroke="#333" stroke-width="1.0" />
<rect x="51.20" y="206.30" width="71.00" height="70.50" fill="none" stroke="#9a9a9a" stroke-width="1.0"/>
<line x1="50.70" y1="276.80" x2="122.70" y2="276.80" stroke="#4a4a4a" stroke-width="1.1" />
<rect x="57.80" y="276.20" width="6.2" height="1.7" fill="#1a1a1a"/>
<text x="85.70" y="200.20" font-size="10" text-anchor="middle" font-weight="normal" fill="#111" stroke="#111" >UT</text>
<text x="108.30" y="250.40" font-size="8.6" text-anchor="middle" font-weight="normal" fill="#111" stroke="#111" >0.5%</text>
<rect x="154.20" y="206.30" width="71.00" height="70.50" fill="#fff"/>
<line x1="152.20" y1="211.20" x2="154.20" y2="211.20" stroke="#333" stroke-width="1.0" />
<text x="149.90" y="214.20" font-size="8.3" text-anchor="end" font-weight="normal" fill="#111" stroke="#111" >10<tspan font-size="5.3" dy="-3.4">5</tspan></text>
<line x1="152.20" y1="227.70" x2="154.20" y2="227.70" stroke="#333" stroke-width="1.0" />
<text x="149.90" y="230.70" font-size="8.3" text-anchor="end" font-weight="normal" fill="#111" stroke="#111" >10<tspan font-size="5.3" dy="-3.4">4</tspan></text>
<line x1="152.20" y1="244.60" x2="154.20" y2="244.60" stroke="#333" stroke-width="1.0" />
<text x="149.90" y="247.60" font-size="8.3" text-anchor="end" font-weight="normal" fill="#111" stroke="#111" >10<tspan font-size="5.3" dy="-3.4">3</tspan></text>
<line x1="152.20" y1="261.00" x2="154.20" y2="261.00" stroke="#333" stroke-width="1.0" />
<text x="149.90" y="264.00" font-size="8.3" text-anchor="end" font-weight="normal" fill="#111" stroke="#111" >10<tspan font-size="5.3" dy="-3.4">2</tspan></text>
<line x1="152.20" y1="268.10" x2="154.20" y2="268.10" stroke="#333" stroke-width="1.0" />
<text x="149.90" y="271.10" font-size="8.3" text-anchor="end" font-weight="normal" fill="#111" stroke="#111" >0</text>
<line x1="152.20" y1="276.30" x2="154.20" y2="276.30" stroke="#333" stroke-width="1.0" />
<text x="149.90" y="279.30" font-size="8.3" text-anchor="end" font-weight="normal" fill="#111" stroke="#111" >−10<tspan font-size="5.3" dy="-3.4">2</tspan></text>
<line x1="153.10" y1="222.73" x2="154.20" y2="222.73" stroke="#777" stroke-width="0.7" />
<line x1="153.10" y1="219.83" x2="154.20" y2="219.83" stroke="#777" stroke-width="0.7" />
<line x1="153.10" y1="217.77" x2="154.20" y2="217.77" stroke="#777" stroke-width="0.7" />
<line x1="153.10" y1="216.17" x2="154.20" y2="216.17" stroke="#777" stroke-width="0.7" />
<line x1="153.10" y1="214.86" x2="154.20" y2="214.86" stroke="#777" stroke-width="0.7" />
<line x1="153.10" y1="213.76" x2="154.20" y2="213.76" stroke="#777" stroke-width="0.7" />
<line x1="153.10" y1="212.80" x2="154.20" y2="212.80" stroke="#777" stroke-width="0.7" />
<line x1="153.10" y1="211.95" x2="154.20" y2="211.95" stroke="#777" stroke-width="0.7" />
<line x1="153.10" y1="239.51" x2="154.20" y2="239.51" stroke="#777" stroke-width="0.7" />
<line x1="153.10" y1="236.54" x2="154.20" y2="236.54" stroke="#777" stroke-width="0.7" />
<line x1="153.10" y1="234.43" x2="154.20" y2="234.43" stroke="#777" stroke-width="0.7" />
<line x1="153.10" y1="232.79" x2="154.20" y2="232.79" stroke="#777" stroke-width="0.7" />
<line x1="153.10" y1="231.45" x2="154.20" y2="231.45" stroke="#777" stroke-width="0.7" />
<line x1="153.10" y1="230.32" x2="154.20" y2="230.32" stroke="#777" stroke-width="0.7" />
<line x1="153.10" y1="229.34" x2="154.20" y2="229.34" stroke="#777" stroke-width="0.7" />
<line x1="153.10" y1="228.47" x2="154.20" y2="228.47" stroke="#777" stroke-width="0.7" />
<line x1="153.10" y1="256.06" x2="154.20" y2="256.06" stroke="#777" stroke-width="0.7" />
<line x1="153.10" y1="253.18" x2="154.20" y2="253.18" stroke="#777" stroke-width="0.7" />
<line x1="153.10" y1="251.13" x2="154.20" y2="251.13" stroke="#777" stroke-width="0.7" />
<line x1="153.10" y1="249.54" x2="154.20" y2="249.54" stroke="#777" stroke-width="0.7" />
<line x1="153.10" y1="248.24" x2="154.20" y2="248.24" stroke="#777" stroke-width="0.7" />
<line x1="153.10" y1="247.14" x2="154.20" y2="247.14" stroke="#777" stroke-width="0.7" />
<line x1="153.10" y1="246.19" x2="154.20" y2="246.19" stroke="#777" stroke-width="0.7" />
<line x1="153.10" y1="245.35" x2="154.20" y2="245.35" stroke="#777" stroke-width="0.7" />
<line x1="165.30" y1="276.80" x2="165.30" y2="278.80" stroke="#333" stroke-width="1.0" />
<text x="165.30" y="289.10" font-size="8.3" text-anchor="middle" font-weight="normal" fill="#111" stroke="#111" >0</text>
<line x1="177.50" y1="276.80" x2="177.50" y2="278.80" stroke="#333" stroke-width="1.0" />
<text x="178.40" y="289.10" font-size="8.3" text-anchor="middle" font-weight="normal" fill="#111" stroke="#111" >10<tspan font-size="5.3" dy="-3.4">2</tspan></text>
<line x1="191.70" y1="276.80" x2="191.70" y2="278.80" stroke="#333" stroke-width="1.0" />
<text x="192.60" y="289.10" font-size="8.3" text-anchor="middle" font-weight="normal" fill="#111" stroke="#111" >10<tspan font-size="5.3" dy="-3.4">3</tspan></text>
<line x1="205.70" y1="276.80" x2="205.70" y2="278.80" stroke="#333" stroke-width="1.0" />
<text x="206.60" y="289.10" font-size="8.3" text-anchor="middle" font-weight="normal" fill="#111" stroke="#111" >10<tspan font-size="5.3" dy="-3.4">4</tspan></text>
<line x1="219.40" y1="276.80" x2="219.40" y2="278.80" stroke="#333" stroke-width="1.0" />
<text x="220.30" y="289.10" font-size="8.3" text-anchor="middle" font-weight="normal" fill="#111" stroke="#111" >10<tspan font-size="5.3" dy="-3.4">5</tspan></text>
<line x1="181.77" y1="276.80" x2="181.77" y2="277.90" stroke="#777" stroke-width="0.7" />
<line x1="184.28" y1="276.80" x2="184.28" y2="277.90" stroke="#777" stroke-width="0.7" />
<line x1="186.05" y1="276.80" x2="186.05" y2="277.90" stroke="#777" stroke-width="0.7" />
<line x1="187.43" y1="276.80" x2="187.43" y2="277.90" stroke="#777" stroke-width="0.7" />
<line x1="188.55" y1="276.80" x2="188.55" y2="277.90" stroke="#777" stroke-width="0.7" />
<line x1="189.50" y1="276.80" x2="189.50" y2="277.90" stroke="#777" stroke-width="0.7" />
<line x1="190.32" y1="276.80" x2="190.32" y2="277.90" stroke="#777" stroke-width="0.7" />
<line x1="191.05" y1="276.80" x2="191.05" y2="277.90" stroke="#777" stroke-width="0.7" />
<line x1="195.91" y1="276.80" x2="195.91" y2="277.90" stroke="#777" stroke-width="0.7" />
<line x1="198.38" y1="276.80" x2="198.38" y2="277.90" stroke="#777" stroke-width="0.7" />
<line x1="200.13" y1="276.80" x2="200.13" y2="277.90" stroke="#777" stroke-width="0.7" />
<line x1="201.49" y1="276.80" x2="201.49" y2="277.90" stroke="#777" stroke-width="0.7" />
<line x1="202.59" y1="276.80" x2="202.59" y2="277.90" stroke="#777" stroke-width="0.7" />
<line x1="203.53" y1="276.80" x2="203.53" y2="277.90" stroke="#777" stroke-width="0.7" />
<line x1="204.34" y1="276.80" x2="204.34" y2="277.90" stroke="#777" stroke-width="0.7" />
<line x1="205.06" y1="276.80" x2="205.06" y2="277.90" stroke="#777" stroke-width="0.7" />
<line x1="209.82" y1="276.80" x2="209.82" y2="277.90" stroke="#777" stroke-width="0.7" />
<line x1="212.24" y1="276.80" x2="212.24" y2="277.90" stroke="#777" stroke-width="0.7" />
<line x1="213.95" y1="276.80" x2="213.95" y2="277.90" stroke="#777" stroke-width="0.7" />
<line x1="215.28" y1="276.80" x2="215.28" y2="277.90" stroke="#777" stroke-width="0.7" />
<line x1="216.36" y1="276.80" x2="216.36" y2="277.90" stroke="#777" stroke-width="0.7" />
<line x1="217.28" y1="276.80" x2="217.28" y2="277.90" stroke="#777" stroke-width="0.7" />
<line x1="218.07" y1="276.80" x2="218.07" y2="277.90" stroke="#777" stroke-width="0.7" />
<line x1="218.77" y1="276.80" x2="218.77" y2="277.90" stroke="#777" stroke-width="0.7" />
<g filter="url(#bl)">
<polygon points="175.62,268.78 166.25,268.65 166.12,268.53 165.75,268.53 164.66,267.56 164.28,266.56 164.16,265.31 164.03,265.19 164.03,251.56 164.16,251.44 164.16,248.94 164.29,248.81 164.41,245.81 164.54,245.69 164.66,243.56 164.79,243.44 164.79,242.69 164.91,242.56 164.91,241.94 165.04,241.81 165.16,240.56 165.29,240.44 165.41,239.56 165.91,238.31 165.91,238.06 166.16,237.69 166.16,237.44 167.66,234.94 168.66,233.81 169.62,232.98 170.00,232.85 170.25,232.60 170.87,232.48 171.00,232.35 173.00,232.35 173.12,232.48 174.00,232.61 174.37,232.86 174.62,232.86 175.62,233.36 176.87,234.24 178.33,235.69 179.32,237.06 180.32,239.06 180.32,239.31 180.82,240.56 180.82,240.94 181.07,241.44 181.32,243.19 181.44,243.31 181.57,244.94 181.69,245.06 181.69,246.19 181.82,246.31 181.82,248.56 181.94,248.69 181.95,254.31 181.82,254.44 181.82,259.06 181.70,259.19 181.70,262.06 181.58,262.19 181.58,263.44 181.45,263.56 181.33,264.94 181.20,265.06 180.70,266.69 179.62,267.89 178.37,268.40 178.00,268.40 177.87,268.52 177.25,268.52 177.12,268.65 175.75,268.65 175.62,268.78" fill="#0008c0"/>
<polygon points="174.87,268.19 172.25,268.27 171.87,268.16 166.62,268.03 166.00,267.87 165.18,267.06 164.75,265.81 164.61,264.94 164.65,251.94 164.77,251.44 164.80,249.31 164.92,248.81 165.08,246.19 165.89,240.81 166.90,237.69 168.33,235.31 169.05,234.44 169.94,233.69 170.60,233.31 171.37,233.07 172.75,233.11 173.75,233.38 175.00,233.97 176.50,235.04 177.94,236.69 178.88,238.31 179.38,239.44 179.86,240.94 180.47,243.69 180.85,246.69 181.04,252.69 181.05,253.94 180.94,254.44 180.96,258.69 180.85,259.19 180.86,261.69 180.52,264.56 179.98,266.19 179.25,267.12 177.51,267.81 174.87,268.19" fill="#0436fa"/>
<polygon points="174.00,267.33 172.50,267.42 170.00,267.32 166.75,267.01 166.19,266.69 165.74,265.56 165.56,264.69 165.70,252.19 166.06,247.81 166.82,242.56 167.37,240.29 168.50,238.21 169.75,236.82 170.37,236.43 171.12,236.23 171.75,236.27 172.37,236.51 173.50,237.43 174.62,239.07 175.62,241.26 176.54,244.06 177.32,247.31 177.94,250.94 178.41,254.94 178.80,262.31 178.80,264.06 178.56,265.19 178.21,265.94 177.82,266.44 176.50,266.91 174.00,267.33" fill="#0070ff"/>
<polygon points="173.37,267.19 169.62,267.13 166.75,266.77 166.37,266.58 166.24,266.31 165.76,264.56 165.92,252.44 166.25,248.94 167.24,245.31 168.40,242.56 169.02,241.56 169.75,240.74 170.37,240.29 171.12,240.05 171.75,240.10 172.25,240.30 173.25,241.15 174.25,242.66 175.10,244.56 175.89,247.06 176.55,249.94 177.09,253.19 177.48,256.81 177.77,263.31 177.73,264.31 177.53,265.06 177.06,265.94 176.40,266.69 175.00,267.02 173.37,267.19" fill="#00b8ff"/>
<polygon points="172.75,267.07 169.75,266.97 167.36,266.69 166.26,265.56 165.95,264.56 166.00,257.24 166.47,253.44 167.17,249.94 168.00,247.22 169.00,245.08 169.53,244.31 170.12,243.72 170.62,243.41 171.25,243.26 171.75,243.32 172.25,243.56 173.12,244.38 174.00,245.81 174.75,247.63 175.46,250.06 176.03,252.81 176.45,255.81 176.75,259.19 176.89,263.94 176.56,265.19 175.95,266.06 175.03,266.81 172.75,267.07" fill="#00e8e8"/>
<polygon points="173.75,266.82 172.62,266.92 168.54,266.69 167.75,266.19 167.11,265.56 166.67,264.81 166.47,264.06 166.54,260.69 166.79,257.31 167.21,254.31 167.79,251.56 168.50,249.31 169.33,247.56 170.25,246.45 171.12,246.04 171.87,246.16 172.50,246.58 173.19,247.44 173.85,248.69 174.41,250.19 174.93,252.06 175.69,256.31 176.06,260.56 176.09,264.31 175.82,265.06 175.27,265.81 174.50,266.44 173.75,266.82" fill="#30e890"/>
<polygon points="172.50,266.70 170.02,266.69 168.87,266.27 168.18,265.81 167.62,265.24 167.26,264.56 167.13,263.94 167.20,260.94 167.43,258.06 167.80,255.44 168.32,253.06 168.93,251.19 169.62,249.75 170.37,248.85 170.75,248.60 171.25,248.47 172.00,248.68 172.62,249.26 173.25,250.24 173.86,251.69 174.37,253.43 174.80,255.44 175.35,260.06 175.48,263.81 175.29,264.69 174.87,265.37 174.25,265.95 173.37,266.44 172.50,266.70" fill="#50e040"/>
<polygon points="172.00,265.96 170.75,265.98 169.50,265.59 168.62,264.86 168.26,263.94 168.46,259.69 169.12,255.96 169.62,254.45 170.12,253.47 170.62,252.88 171.25,252.60 171.75,252.73 172.25,253.16 172.75,253.95 173.21,255.06 173.90,257.94 174.29,261.56 174.35,263.81 174.16,264.56 173.80,265.06 173.35,265.44 172.00,265.96" fill="#a8e820"/>
<polygon points="171.62,265.32 170.75,265.28 169.88,264.94 169.38,264.44 169.19,263.81 169.33,260.94 169.77,258.44 170.45,256.69 170.87,256.19 171.25,256.04 171.62,256.13 172.00,256.47 172.65,257.81 173.13,259.94 173.39,262.69 173.41,263.94 173.22,264.44 172.62,265.00 171.62,265.32" fill="#f0e000"/>
<ellipse cx="171.5" cy="261" rx="3.40" ry="5.20" transform="rotate(0 171.5 261)" fill="#ffc000"/>
<ellipse cx="171.5" cy="264" rx="4.00" ry="3.40" transform="rotate(0 171.5 264)" fill="#ffc000"/>
<ellipse cx="171.5" cy="261" rx="2.72" ry="4.16" transform="rotate(0 171.5 261)" fill="#ff7000"/>
<ellipse cx="171.5" cy="264" rx="3.20" ry="2.72" transform="rotate(0 171.5 264)" fill="#ff7000"/>
<ellipse cx="171.5" cy="264" rx="2.48" ry="2.11" transform="rotate(0 171.5 264)" fill="#e81000"/>
</g>
<line x1="177.50" y1="206.30" x2="177.50" y2="276.80" stroke="#333" stroke-width="1.0" />
<line x1="154.20" y1="253.50" x2="225.20" y2="253.50" stroke="#333" stroke-width="1.0" />
<rect x="154.20" y="206.30" width="71.00" height="70.50" fill="none" stroke="#9a9a9a" stroke-width="1.0"/>
<line x1="153.70" y1="276.80" x2="225.70" y2="276.80" stroke="#4a4a4a" stroke-width="1.1" />
<rect x="160.80" y="276.20" width="6.2" height="1.7" fill="#1a1a1a"/>
<text x="188.70" y="200.20" font-size="10" text-anchor="middle" font-weight="normal" fill="#111" stroke="#111" >Cont IgG</text>
<text x="211.00" y="250.40" font-size="8.6" text-anchor="middle" font-weight="normal" fill="#111" stroke="#111" >2.7%</text>
<rect x="256.80" y="206.30" width="71.00" height="70.50" fill="#fff"/>
<line x1="254.80" y1="211.20" x2="256.80" y2="211.20" stroke="#333" stroke-width="1.0" />
<text x="252.50" y="214.20" font-size="8.3" text-anchor="end" font-weight="normal" fill="#111" stroke="#111" >10<tspan font-size="5.3" dy="-3.4">5</tspan></text>
<line x1="254.80" y1="227.70" x2="256.80" y2="227.70" stroke="#333" stroke-width="1.0" />
<text x="252.50" y="230.70" font-size="8.3" text-anchor="end" font-weight="normal" fill="#111" stroke="#111" >10<tspan font-size="5.3" dy="-3.4">4</tspan></text>
<line x1="254.80" y1="244.60" x2="256.80" y2="244.60" stroke="#333" stroke-width="1.0" />
<text x="252.50" y="247.60" font-size="8.3" text-anchor="end" font-weight="normal" fill="#111" stroke="#111" >10<tspan font-size="5.3" dy="-3.4">3</tspan></text>
<line x1="254.80" y1="261.00" x2="256.80" y2="261.00" stroke="#333" stroke-width="1.0" />
<text x="252.50" y="264.00" font-size="8.3" text-anchor="end" font-weight="normal" fill="#111" stroke="#111" >10<tspan font-size="5.3" dy="-3.4">2</tspan></text>
<line x1="254.80" y1="268.10" x2="256.80" y2="268.10" stroke="#333" stroke-width="1.0" />
<text x="252.50" y="271.10" font-size="8.3" text-anchor="end" font-weight="normal" fill="#111" stroke="#111" >0</text>
<line x1="254.80" y1="276.30" x2="256.80" y2="276.30" stroke="#333" stroke-width="1.0" />
<text x="252.50" y="279.30" font-size="8.3" text-anchor="end" font-weight="normal" fill="#111" stroke="#111" >−10<tspan font-size="5.3" dy="-3.4">2</tspan></text>
<line x1="255.70" y1="222.73" x2="256.80" y2="222.73" stroke="#777" stroke-width="0.7" />
<line x1="255.70" y1="219.83" x2="256.80" y2="219.83" stroke="#777" stroke-width="0.7" />
<line x1="255.70" y1="217.77" x2="256.80" y2="217.77" stroke="#777" stroke-width="0.7" />
<line x1="255.70" y1="216.17" x2="256.80" y2="216.17" stroke="#777" stroke-width="0.7" />
<line x1="255.70" y1="214.86" x2="256.80" y2="214.86" stroke="#777" stroke-width="0.7" />
<line x1="255.70" y1="213.76" x2="256.80" y2="213.76" stroke="#777" stroke-width="0.7" />
<line x1="255.70" y1="212.80" x2="256.80" y2="212.80" stroke="#777" stroke-width="0.7" />
<line x1="255.70" y1="211.95" x2="256.80" y2="211.95" stroke="#777" stroke-width="0.7" />
<line x1="255.70" y1="239.51" x2="256.80" y2="239.51" stroke="#777" stroke-width="0.7" />
<line x1="255.70" y1="236.54" x2="256.80" y2="236.54" stroke="#777" stroke-width="0.7" />
<line x1="255.70" y1="234.43" x2="256.80" y2="234.43" stroke="#777" stroke-width="0.7" />
<line x1="255.70" y1="232.79" x2="256.80" y2="232.79" stroke="#777" stroke-width="0.7" />
<line x1="255.70" y1="231.45" x2="256.80" y2="231.45" stroke="#777" stroke-width="0.7" />
<line x1="255.70" y1="230.32" x2="256.80" y2="230.32" stroke="#777" stroke-width="0.7" />
<line x1="255.70" y1="229.34" x2="256.80" y2="229.34" stroke="#777" stroke-width="0.7" />
<line x1="255.70" y1="228.47" x2="256.80" y2="228.47" stroke="#777" stroke-width="0.7" />
<line x1="255.70" y1="256.06" x2="256.80" y2="256.06" stroke="#777" stroke-width="0.7" />
<line x1="255.70" y1="253.18" x2="256.80" y2="253.18" stroke="#777" stroke-width="0.7" />
<line x1="255.70" y1="251.13" x2="256.80" y2="251.13" stroke="#777" stroke-width="0.7" />
<line x1="255.70" y1="249.54" x2="256.80" y2="249.54" stroke="#777" stroke-width="0.7" />
<line x1="255.70" y1="248.24" x2="256.80" y2="248.24" stroke="#777" stroke-width="0.7" />
<line x1="255.70" y1="247.14" x2="256.80" y2="247.14" stroke="#777" stroke-width="0.7" />
<line x1="255.70" y1="246.19" x2="256.80" y2="246.19" stroke="#777" stroke-width="0.7" />
<line x1="255.70" y1="245.35" x2="256.80" y2="245.35" stroke="#777" stroke-width="0.7" />
<line x1="267.90" y1="276.80" x2="267.90" y2="278.80" stroke="#333" stroke-width="1.0" />
<text x="267.90" y="289.10" font-size="8.3" text-anchor="middle" font-weight="normal" fill="#111" stroke="#111" >0</text>
<line x1="280.10" y1="276.80" x2="280.10" y2="278.80" stroke="#333" stroke-width="1.0" />
<text x="281.00" y="289.10" font-size="8.3" text-anchor="middle" font-weight="normal" fill="#111" stroke="#111" >10<tspan font-size="5.3" dy="-3.4">2</tspan></text>
<line x1="294.30" y1="276.80" x2="294.30" y2="278.80" stroke="#333" stroke-width="1.0" />
<text x="295.20" y="289.10" font-size="8.3" text-anchor="middle" font-weight="normal" fill="#111" stroke="#111" >10<tspan font-size="5.3" dy="-3.4">3</tspan></text>
<line x1="308.30" y1="276.80" x2="308.30" y2="278.80" stroke="#333" stroke-width="1.0" />
<text x="309.20" y="289.10" font-size="8.3" text-anchor="middle" font-weight="normal" fill="#111" stroke="#111" >10<tspan font-size="5.3" dy="-3.4">4</tspan></text>
<line x1="322.00" y1="276.80" x2="322.00" y2="278.80" stroke="#333" stroke-width="1.0" />
<text x="322.90" y="289.10" font-size="8.3" text-anchor="middle" font-weight="normal" fill="#111" stroke="#111" >10<tspan font-size="5.3" dy="-3.4">5</tspan></text>
<line x1="284.37" y1="276.80" x2="284.37" y2="277.90" stroke="#777" stroke-width="0.7" />
<line x1="286.88" y1="276.80" x2="286.88" y2="277.90" stroke="#777" stroke-width="0.7" />
<line x1="288.65" y1="276.80" x2="288.65" y2="277.90" stroke="#777" stroke-width="0.7" />
<line x1="290.03" y1="276.80" x2="290.03" y2="277.90" stroke="#777" stroke-width="0.7" />
<line x1="291.15" y1="276.80" x2="291.15" y2="277.90" stroke="#777" stroke-width="0.7" />
<line x1="292.10" y1="276.80" x2="292.10" y2="277.90" stroke="#777" stroke-width="0.7" />
<line x1="292.92" y1="276.80" x2="292.92" y2="277.90" stroke="#777" stroke-width="0.7" />
<line x1="293.65" y1="276.80" x2="293.65" y2="277.90" stroke="#777" stroke-width="0.7" />
<line x1="298.51" y1="276.80" x2="298.51" y2="277.90" stroke="#777" stroke-width="0.7" />
<line x1="300.98" y1="276.80" x2="300.98" y2="277.90" stroke="#777" stroke-width="0.7" />
<line x1="302.73" y1="276.80" x2="302.73" y2="277.90" stroke="#777" stroke-width="0.7" />
<line x1="304.09" y1="276.80" x2="304.09" y2="277.90" stroke="#777" stroke-width="0.7" />
<line x1="305.19" y1="276.80" x2="305.19" y2="277.90" stroke="#777" stroke-width="0.7" />
<line x1="306.13" y1="276.80" x2="306.13" y2="277.90" stroke="#777" stroke-width="0.7" />
<line x1="306.94" y1="276.80" x2="306.94" y2="277.90" stroke="#777" stroke-width="0.7" />
<line x1="307.66" y1="276.80" x2="307.66" y2="277.90" stroke="#777" stroke-width="0.7" />
<line x1="312.42" y1="276.80" x2="312.42" y2="277.90" stroke="#777" stroke-width="0.7" />
<line x1="314.84" y1="276.80" x2="314.84" y2="277.90" stroke="#777" stroke-width="0.7" />
<line x1="316.55" y1="276.80" x2="316.55" y2="277.90" stroke="#777" stroke-width="0.7" />
<line x1="317.88" y1="276.80" x2="317.88" y2="277.90" stroke="#777" stroke-width="0.7" />
<line x1="318.96" y1="276.80" x2="318.96" y2="277.90" stroke="#777" stroke-width="0.7" />
<line x1="319.88" y1="276.80" x2="319.88" y2="277.90" stroke="#777" stroke-width="0.7" />
<line x1="320.67" y1="276.80" x2="320.67" y2="277.90" stroke="#777" stroke-width="0.7" />
<line x1="321.37" y1="276.80" x2="321.37" y2="277.90" stroke="#777" stroke-width="0.7" />
<g filter="url(#bl)">
<polygon points="271.85,269.87 270.10,269.74 268.85,269.24 268.01,268.41 267.64,267.66 267.51,266.91 267.38,266.78 267.38,266.03 267.26,265.91 267.26,254.16 267.39,254.03 267.39,251.53 267.51,251.41 267.51,249.91 267.64,249.78 267.76,247.78 267.88,247.66 267.89,246.91 268.01,246.78 268.14,245.53 268.26,245.41 268.38,244.41 268.51,244.28 268.88,242.41 269.13,241.91 269.13,241.53 270.13,238.78 270.13,238.53 271.38,235.78 272.38,234.28 274.22,232.57 275.60,231.82 275.85,231.57 277.35,230.82 278.97,229.69 280.85,228.94 281.35,228.94 281.47,228.82 284.10,228.82 287.47,228.95 287.60,229.07 288.47,229.07 288.60,229.20 289.35,229.20 289.47,229.32 290.85,229.45 290.97,229.57 291.35,229.57 291.47,229.70 291.85,229.70 291.97,229.82 292.35,229.83 292.47,229.95 293.10,230.08 294.10,230.58 295.43,231.78 295.93,232.53 297.05,235.28 297.18,236.16 297.31,236.28 297.31,236.91 297.43,237.03 297.44,240.53 297.31,240.66 297.31,241.66 297.19,241.78 297.06,243.16 296.94,243.28 296.69,245.03 296.44,245.66 296.44,246.16 296.32,246.28 296.32,246.66 296.20,246.78 295.82,248.66 295.57,249.16 295.45,250.03 295.20,250.53 295.20,250.91 294.82,251.78 294.82,252.16 294.70,252.28 294.45,253.28 294.32,253.41 294.32,253.78 294.20,253.91 293.32,256.78 293.07,257.16 292.69,258.53 292.44,258.91 292.31,259.53 292.06,259.91 291.81,260.78 291.44,261.41 291.19,262.28 290.94,262.66 290.44,264.41 289.81,265.78 288.94,266.78 288.10,267.50 287.10,268.00 286.47,268.13 286.35,268.25 285.97,268.25 285.85,268.38 285.47,268.38 285.35,268.50 284.22,268.63 284.10,268.75 283.35,268.75 283.22,268.88 282.22,268.88 282.10,269.00 279.22,269.13 279.10,269.25 277.22,269.25 277.10,269.38 275.85,269.38 275.72,269.50 274.72,269.50 274.60,269.63 273.72,269.63 273.60,269.75 271.97,269.75 271.85,269.87" fill="#0008c0"/>
<polygon points="273.35,269.17 271.47,269.22 270.35,269.06 269.22,268.61 268.72,268.16 268.28,267.41 267.84,265.66 267.95,254.53 268.07,254.03 268.18,250.28 268.44,248.03 268.81,245.78 269.80,241.78 270.81,238.78 272.00,236.16 273.09,234.53 274.47,233.26 279.35,230.32 280.60,229.77 281.85,229.51 285.72,229.55 290.47,230.20 292.97,230.95 294.10,231.61 294.64,232.16 295.28,233.16 296.15,235.28 296.67,237.41 296.74,240.16 296.64,241.41 295.90,245.91 294.37,251.91 292.80,256.53 290.82,261.16 289.28,265.28 288.90,265.91 287.85,266.87 286.85,267.41 285.10,267.95 282.97,268.34 279.22,268.62 278.85,268.74 275.85,268.87 273.35,269.17" fill="#0436fa"/>
<polygon points="274.22,268.18 273.10,268.24 271.47,268.14 270.60,268.00 269.85,267.70 269.32,267.03 268.85,265.28 269.04,256.78 269.16,254.78 269.49,253.28 269.35,252.16 269.81,247.53 270.32,244.91 271.08,242.03 271.97,239.37 272.72,237.60 273.72,235.89 274.83,234.66 276.30,233.66 278.72,232.31 280.35,232.19 281.97,232.50 283.47,233.19 285.22,234.46 286.60,233.34 287.97,232.75 289.47,232.64 290.85,233.04 291.85,233.64 292.72,234.41 293.60,235.44 294.39,236.66 295.47,238.96 295.49,241.16 294.87,246.16 294.14,249.66 293.55,251.78 292.01,255.91 290.32,259.28 288.47,264.41 287.95,265.28 287.22,265.95 286.47,266.39 284.85,266.94 283.60,267.22 282.10,267.35 280.35,267.71 278.60,267.92 274.22,268.18" fill="#0070ff"/>
<polygon points="273.10,268.04 270.67,267.78 269.72,267.17 269.46,266.78 269.05,264.91 269.20,258.41 269.22,257.90 269.43,257.28 270.35,255.12 271.32,253.53 272.38,252.28 272.31,249.78 272.68,246.66 273.38,244.03 274.42,241.66 275.29,240.28 276.22,239.20 277.22,238.38 278.35,237.79 279.72,237.49 281.22,237.65 282.60,238.27 283.85,239.28 285.36,236.91 286.22,236.03 287.10,235.41 287.97,235.04 288.97,234.89 289.97,235.02 290.85,235.38 292.31,236.53 293.59,238.28 294.78,240.91 295.10,241.90 295.12,242.66 294.75,245.66 294.29,248.16 293.28,252.03 292.16,255.03 290.85,257.78 290.60,258.16 289.69,258.41 289.44,260.16 289.06,261.78 288.55,263.28 287.90,264.66 287.35,265.53 286.63,266.03 285.72,266.43 284.22,266.85 278.60,267.75 273.10,268.04" fill="#00b8ff"/>
<polygon points="275.22,267.80 272.30,267.78 270.93,267.03 270.10,266.28 269.61,265.53 269.40,264.78 269.40,263.66 269.56,261.78 269.90,259.91 270.42,258.16 271.11,256.53 271.92,255.16 272.85,254.02 273.85,253.17 275.05,252.53 274.82,251.16 274.98,248.78 275.41,246.78 276.10,245.03 276.85,243.80 277.72,242.86 278.60,242.27 279.60,241.96 280.60,241.99 281.60,242.38 282.47,243.03 283.35,244.08 284.03,241.91 284.67,240.41 285.47,239.04 286.35,238.01 287.35,237.25 288.35,236.87 289.47,236.83 290.47,237.16 291.22,237.64 291.85,238.21 293.00,239.78 293.97,241.91 294.65,244.41 294.29,247.16 293.59,250.41 292.58,253.53 291.47,256.07 291.10,256.64 290.85,256.75 289.85,257.06 288.82,257.16 288.46,260.03 287.70,262.53 286.59,264.53 285.85,265.41 285.10,266.05 284.35,266.49 283.48,266.78 282.35,266.85 280.22,267.36 278.47,267.59 275.22,267.80" fill="#00e8e8"/>
<polygon points="274.10,267.66 272.97,267.39 271.64,266.66 270.77,265.78 270.38,264.91 270.41,262.91 270.74,260.78 271.32,258.78 272.10,257.12 273.22,255.56 274.60,254.46 275.97,253.98 277.57,254.03 277.75,253.03 277.30,252.28 277.09,251.66 277.08,249.91 277.59,247.91 277.98,247.16 278.47,246.51 279.22,245.96 279.97,245.78 280.72,245.93 281.47,246.43 282.72,246.14 283.85,246.39 284.28,244.28 284.83,242.53 285.54,241.03 286.35,239.87 287.35,238.97 288.35,238.52 289.47,238.49 290.47,238.86 291.72,239.96 292.79,241.66 293.62,243.91 294.13,246.53 293.95,248.03 293.35,250.66 292.48,253.28 291.72,255.03 290.85,255.59 289.85,255.95 288.97,256.04 287.97,255.91 287.85,258.66 287.22,261.23 286.20,263.28 285.50,264.16 284.78,264.78 283.60,265.37 282.47,265.49 281.47,266.57 280.78,267.03 280.35,267.16 278.47,267.44 274.10,267.66" fill="#30e890"/>
<polygon points="276.60,267.43 275.10,267.43 273.35,266.95 272.10,266.20 271.37,265.28 271.19,264.41 271.38,262.03 271.79,260.28 272.42,258.66 273.60,256.87 274.22,256.27 274.97,255.77 275.72,255.49 276.60,255.39 277.35,255.51 278.10,255.81 278.48,253.28 278.99,251.41 279.00,250.41 279.35,249.55 279.72,249.22 280.10,249.16 281.22,248.08 282.10,247.67 283.22,247.65 284.35,248.21 284.44,248.16 284.67,246.16 285.07,244.41 285.61,242.91 286.35,241.59 287.22,240.61 288.10,240.07 289.10,239.89 290.10,240.16 291.10,240.92 292.08,242.28 292.82,244.03 293.31,246.03 293.53,248.03 293.49,249.41 292.88,251.66 292.35,253.12 291.25,254.28 289.97,254.93 288.72,255.06 287.97,254.92 287.22,254.59 287.16,254.66 287.23,257.41 286.86,259.78 286.01,261.91 285.47,262.72 284.85,263.39 284.10,263.92 283.35,264.21 282.60,264.29 281.85,264.16 281.73,265.03 281.41,265.66 280.80,266.28 279.97,266.80 278.47,267.29 276.60,267.43" fill="#50e040"/>
<polygon points="289.35,253.41 288.60,253.40 287.97,253.22 287.35,252.85 286.85,252.38 286.35,251.68 286.00,250.91 285.68,249.16 285.91,246.53 286.60,244.40 287.10,243.54 287.72,242.86 288.35,242.48 288.97,242.35 289.60,242.46 290.22,242.82 290.80,243.41 291.28,244.16 292.01,246.16 292.32,248.53 292.18,250.28 291.59,251.78 290.60,252.89 289.97,253.24 289.35,253.41" fill="#a8e820"/>
<polygon points="283.22,262.17 282.47,262.23 281.85,262.06 281.22,261.67 280.63,261.03 280.16,260.28 279.76,259.28 279.39,257.16 279.56,254.53 280.22,252.26 280.72,251.35 281.31,250.66 281.97,250.21 282.60,250.05 283.22,250.13 283.85,250.46 284.35,250.92 284.87,251.66 285.66,253.66 286.01,256.03 285.91,258.16 285.36,260.03 284.46,261.41 283.85,261.90 283.22,262.17" fill="#a8e820"/>
<polygon points="277.35,266.66 275.72,266.67 274.19,266.28 273.07,265.53 272.79,265.16 272.63,264.66 272.67,263.41 272.87,262.16 273.19,261.03 273.63,260.03 274.19,259.16 274.85,258.48 275.47,258.08 276.22,257.86 276.97,257.90 277.60,258.12 278.22,258.54 278.81,259.16 279.35,259.98 279.77,260.91 280.28,263.03 280.37,264.66 280.04,265.41 279.60,265.83 278.97,266.21 277.35,266.66" fill="#a8e820"/>
<polygon points="289.35,252.04 288.35,251.95 287.57,251.41 286.95,250.41 286.70,249.16 286.86,247.28 287.35,245.78 288.10,244.75 288.47,244.51 288.97,244.39 289.47,244.49 289.85,244.71 290.52,245.53 291.06,246.91 291.29,248.53 291.23,249.78 290.85,250.84 290.22,251.61 289.35,252.04" fill="#f0e000"/>
<polygon points="282.85,260.54 281.97,260.35 281.14,259.53 280.60,258.28 280.39,256.78 280.57,254.91 281.08,253.41 281.85,252.41 282.22,252.19 282.72,252.09 283.22,252.21 283.60,252.45 284.32,253.41 284.80,254.78 285.01,256.53 284.86,258.03 284.41,259.28 283.72,260.14 282.85,260.54" fill="#f0e000"/>
<polygon points="276.60,266.04 275.47,265.92 274.60,265.59 274.07,265.16 273.81,264.53 274.00,262.78 274.57,261.28 274.97,260.70 275.47,260.24 275.97,259.98 276.47,259.89 276.97,259.96 277.47,260.20 278.35,261.15 278.93,262.53 279.19,264.28 279.09,264.91 278.49,265.53 277.60,265.90 276.60,266.04" fill="#f0e000"/>
<ellipse cx="282.7" cy="256.5" rx="7.50" ry="1.60" transform="rotate(-52 282.7 256.5)" fill="#ffc000"/>
<ellipse cx="289" cy="248.8" rx="3.60" ry="2.30" transform="rotate(-50 289 248.8)" fill="#ffc000"/>
<ellipse cx="276.6" cy="264.3" rx="4.00" ry="2.40" transform="rotate(-15 276.6 264.3)" fill="#ffc000"/>
<ellipse cx="282.7" cy="256.5" rx="6.00" ry="1.28" transform="rotate(-52 282.7 256.5)" fill="#ff7000"/>
<ellipse cx="289" cy="248.8" rx="2.88" ry="1.84" transform="rotate(-50 289 248.8)" fill="#ff7000"/>
<ellipse cx="276.6" cy="264.3" rx="3.20" ry="1.92" transform="rotate(-15 276.6 264.3)" fill="#ff7000"/>
<ellipse cx="289" cy="248.8" rx="2.23" ry="1.43" transform="rotate(-50 289 248.8)" fill="#e81000"/>
<ellipse cx="276.6" cy="264.3" rx="2.48" ry="1.49" transform="rotate(-15 276.6 264.3)" fill="#e81000"/>
</g>
<line x1="280.50" y1="206.30" x2="280.50" y2="276.80" stroke="#333" stroke-width="1.0" />
<line x1="256.80" y1="253.50" x2="327.80" y2="253.50" stroke="#333" stroke-width="1.0" />
<rect x="256.80" y="206.30" width="71.00" height="70.50" fill="none" stroke="#9a9a9a" stroke-width="1.0"/>
<line x1="256.30" y1="276.80" x2="328.30" y2="276.80" stroke="#4a4a4a" stroke-width="1.1" />
<rect x="263.40" y="276.20" width="6.2" height="1.7" fill="#1a1a1a"/>
<text x="291.30" y="200.20" font-size="10" text-anchor="middle" font-weight="normal" fill="#111" stroke="#111" >APS IgG</text>
<text x="313.50" y="250.40" font-size="8.6" text-anchor="middle" font-weight="normal" fill="#111" stroke="#111" >41%</text>
<text x="188.80" y="305.30" font-size="10" text-anchor="middle" font-weight="normal" fill="#111" stroke="#111" >APS IgG</text>
<line x1="55.00" y1="309.60" x2="323.00" y2="309.60" stroke="#333" stroke-width="1.0" />
<rect x="51.20" y="326.60" width="71.00" height="70.50" fill="#fff"/>
<line x1="49.20" y1="331.50" x2="51.20" y2="331.50" stroke="#333" stroke-width="1.0" />
<text x="46.90" y="334.50" font-size="8.3" text-anchor="end" font-weight="normal" fill="#111" stroke="#111" >10<tspan font-size="5.3" dy="-3.4">5</tspan></text>
<line x1="49.20" y1="348.00" x2="51.20" y2="348.00" stroke="#333" stroke-width="1.0" />
<text x="46.90" y="351.00" font-size="8.3" text-anchor="end" font-weight="normal" fill="#111" stroke="#111" >10<tspan font-size="5.3" dy="-3.4">4</tspan></text>
<line x1="49.20" y1="364.90" x2="51.20" y2="364.90" stroke="#333" stroke-width="1.0" />
<text x="46.90" y="367.90" font-size="8.3" text-anchor="end" font-weight="normal" fill="#111" stroke="#111" >10<tspan font-size="5.3" dy="-3.4">3</tspan></text>
<line x1="49.20" y1="381.30" x2="51.20" y2="381.30" stroke="#333" stroke-width="1.0" />
<text x="46.90" y="384.30" font-size="8.3" text-anchor="end" font-weight="normal" fill="#111" stroke="#111" >10<tspan font-size="5.3" dy="-3.4">2</tspan></text>
<line x1="49.20" y1="388.40" x2="51.20" y2="388.40" stroke="#333" stroke-width="1.0" />
<text x="46.90" y="391.40" font-size="8.3" text-anchor="end" font-weight="normal" fill="#111" stroke="#111" >0</text>
<line x1="49.20" y1="396.60" x2="51.20" y2="396.60" stroke="#333" stroke-width="1.0" />
<text x="46.90" y="399.60" font-size="8.3" text-anchor="end" font-weight="normal" fill="#111" stroke="#111" >−10<tspan font-size="5.3" dy="-3.4">2</tspan></text>
<line x1="50.10" y1="343.03" x2="51.20" y2="343.03" stroke="#777" stroke-width="0.7" />
<line x1="50.10" y1="340.13" x2="51.20" y2="340.13" stroke="#777" stroke-width="0.7" />
<line x1="50.10" y1="338.07" x2="51.20" y2="338.07" stroke="#777" stroke-width="0.7" />
<line x1="50.10" y1="336.47" x2="51.20" y2="336.47" stroke="#777" stroke-width="0.7" />
<line x1="50.10" y1="335.16" x2="51.20" y2="335.16" stroke="#777" stroke-width="0.7" />
<line x1="50.10" y1="334.06" x2="51.20" y2="334.06" stroke="#777" stroke-width="0.7" />
<line x1="50.10" y1="333.10" x2="51.20" y2="333.10" stroke="#777" stroke-width="0.7" />
<line x1="50.10" y1="332.25" x2="51.20" y2="332.25" stroke="#777" stroke-width="0.7" />
<line x1="50.10" y1="359.81" x2="51.20" y2="359.81" stroke="#777" stroke-width="0.7" />
<line x1="50.10" y1="356.84" x2="51.20" y2="356.84" stroke="#777" stroke-width="0.7" />
<line x1="50.10" y1="354.73" x2="51.20" y2="354.73" stroke="#777" stroke-width="0.7" />
<line x1="50.10" y1="353.09" x2="51.20" y2="353.09" stroke="#777" stroke-width="0.7" />
<line x1="50.10" y1="351.75" x2="51.20" y2="351.75" stroke="#777" stroke-width="0.7" />
<line x1="50.10" y1="350.62" x2="51.20" y2="350.62" stroke="#777" stroke-width="0.7" />
<line x1="50.10" y1="349.64" x2="51.20" y2="349.64" stroke="#777" stroke-width="0.7" />
<line x1="50.10" y1="348.77" x2="51.20" y2="348.77" stroke="#777" stroke-width="0.7" />
<line x1="50.10" y1="376.36" x2="51.20" y2="376.36" stroke="#777" stroke-width="0.7" />
<line x1="50.10" y1="373.48" x2="51.20" y2="373.48" stroke="#777" stroke-width="0.7" />
<line x1="50.10" y1="371.43" x2="51.20" y2="371.43" stroke="#777" stroke-width="0.7" />
<line x1="50.10" y1="369.84" x2="51.20" y2="369.84" stroke="#777" stroke-width="0.7" />
<line x1="50.10" y1="368.54" x2="51.20" y2="368.54" stroke="#777" stroke-width="0.7" />
<line x1="50.10" y1="367.44" x2="51.20" y2="367.44" stroke="#777" stroke-width="0.7" />
<line x1="50.10" y1="366.49" x2="51.20" y2="366.49" stroke="#777" stroke-width="0.7" />
<line x1="50.10" y1="365.65" x2="51.20" y2="365.65" stroke="#777" stroke-width="0.7" />
<line x1="62.30" y1="397.10" x2="62.30" y2="399.10" stroke="#333" stroke-width="1.0" />
<text x="62.30" y="409.40" font-size="8.3" text-anchor="middle" font-weight="normal" fill="#111" stroke="#111" >0</text>
<line x1="74.50" y1="397.10" x2="74.50" y2="399.10" stroke="#333" stroke-width="1.0" />
<text x="75.40" y="409.40" font-size="8.3" text-anchor="middle" font-weight="normal" fill="#111" stroke="#111" >10<tspan font-size="5.3" dy="-3.4">2</tspan></text>
<line x1="88.70" y1="397.10" x2="88.70" y2="399.10" stroke="#333" stroke-width="1.0" />
<text x="89.60" y="409.40" font-size="8.3" text-anchor="middle" font-weight="normal" fill="#111" stroke="#111" >10<tspan font-size="5.3" dy="-3.4">3</tspan></text>
<line x1="102.70" y1="397.10" x2="102.70" y2="399.10" stroke="#333" stroke-width="1.0" />
<text x="103.60" y="409.40" font-size="8.3" text-anchor="middle" font-weight="normal" fill="#111" stroke="#111" >10<tspan font-size="5.3" dy="-3.4">4</tspan></text>
<line x1="116.40" y1="397.10" x2="116.40" y2="399.10" stroke="#333" stroke-width="1.0" />
<text x="117.30" y="409.40" font-size="8.3" text-anchor="middle" font-weight="normal" fill="#111" stroke="#111" >10<tspan font-size="5.3" dy="-3.4">5</tspan></text>
<line x1="78.77" y1="397.10" x2="78.77" y2="398.20" stroke="#777" stroke-width="0.7" />
<line x1="81.28" y1="397.10" x2="81.28" y2="398.20" stroke="#777" stroke-width="0.7" />
<line x1="83.05" y1="397.10" x2="83.05" y2="398.20" stroke="#777" stroke-width="0.7" />
<line x1="84.43" y1="397.10" x2="84.43" y2="398.20" stroke="#777" stroke-width="0.7" />
<line x1="85.55" y1="397.10" x2="85.55" y2="398.20" stroke="#777" stroke-width="0.7" />
<line x1="86.50" y1="397.10" x2="86.50" y2="398.20" stroke="#777" stroke-width="0.7" />
<line x1="87.32" y1="397.10" x2="87.32" y2="398.20" stroke="#777" stroke-width="0.7" />
<line x1="88.05" y1="397.10" x2="88.05" y2="398.20" stroke="#777" stroke-width="0.7" />
<line x1="92.91" y1="397.10" x2="92.91" y2="398.20" stroke="#777" stroke-width="0.7" />
<line x1="95.38" y1="397.10" x2="95.38" y2="398.20" stroke="#777" stroke-width="0.7" />
<line x1="97.13" y1="397.10" x2="97.13" y2="398.20" stroke="#777" stroke-width="0.7" />
<line x1="98.49" y1="397.10" x2="98.49" y2="398.20" stroke="#777" stroke-width="0.7" />
<line x1="99.59" y1="397.10" x2="99.59" y2="398.20" stroke="#777" stroke-width="0.7" />
<line x1="100.53" y1="397.10" x2="100.53" y2="398.20" stroke="#777" stroke-width="0.7" />
<line x1="101.34" y1="397.10" x2="101.34" y2="398.20" stroke="#777" stroke-width="0.7" />
<line x1="102.06" y1="397.10" x2="102.06" y2="398.20" stroke="#777" stroke-width="0.7" />
<line x1="106.82" y1="397.10" x2="106.82" y2="398.20" stroke="#777" stroke-width="0.7" />
<line x1="109.24" y1="397.10" x2="109.24" y2="398.20" stroke="#777" stroke-width="0.7" />
<line x1="110.95" y1="397.10" x2="110.95" y2="398.20" stroke="#777" stroke-width="0.7" />
<line x1="112.28" y1="397.10" x2="112.28" y2="398.20" stroke="#777" stroke-width="0.7" />
<line x1="113.36" y1="397.10" x2="113.36" y2="398.20" stroke="#777" stroke-width="0.7" />
<line x1="114.28" y1="397.10" x2="114.28" y2="398.20" stroke="#777" stroke-width="0.7" />
<line x1="115.07" y1="397.10" x2="115.07" y2="398.20" stroke="#777" stroke-width="0.7" />
<line x1="115.77" y1="397.10" x2="115.77" y2="398.20" stroke="#777" stroke-width="0.7" />
<g filter="url(#bl)">
<polygon points="72.13,390.51 67.13,390.50 67.00,390.38 64.38,390.37 63.57,389.68 63.31,389.18 63.06,388.18 62.93,388.06 62.80,386.93 62.68,386.81 62.55,384.56 62.42,384.43 62.42,382.68 62.29,382.56 62.30,371.93 62.42,371.81 62.42,370.06 62.55,369.93 62.67,367.81 62.80,367.68 62.80,367.06 62.92,366.93 62.92,366.31 63.05,366.18 63.17,365.18 63.30,365.06 63.30,364.56 63.67,363.56 63.67,363.18 64.05,362.31 64.17,361.56 64.42,361.18 64.55,360.56 65.05,359.56 65.05,359.31 65.92,357.56 67.04,356.06 68.13,355.10 69.38,354.22 71.38,353.22 71.75,353.22 72.25,352.97 72.75,352.97 72.88,352.85 73.63,352.85 73.75,352.72 77.13,352.73 77.25,352.85 77.63,352.85 77.75,352.98 78.38,353.10 79.13,353.48 80.13,354.36 80.25,354.36 81.70,356.06 83.20,358.31 83.32,358.68 84.32,360.18 84.70,361.06 84.94,361.31 86.44,364.43 86.44,364.68 86.69,365.18 86.69,365.56 86.81,365.68 86.81,366.06 86.94,366.18 86.94,366.81 87.06,366.93 87.06,368.93 86.94,369.06 86.94,369.68 86.82,369.81 86.69,370.81 86.44,371.31 86.32,372.06 86.07,372.43 86.07,372.68 85.70,373.43 85.45,373.68 85.20,374.31 84.58,375.18 84.33,375.81 84.08,376.06 83.21,377.81 83.09,378.43 82.84,378.93 82.72,379.93 82.59,380.06 82.59,381.06 82.47,381.18 82.47,382.81 82.34,382.93 82.34,384.81 82.21,384.93 82.21,385.81 82.08,385.93 81.96,386.93 81.33,388.31 80.63,389.01 80.13,389.26 79.50,389.38 79.38,389.51 79.00,389.51 78.88,389.63 78.50,389.63 78.38,389.76 77.13,389.89 77.00,390.01 76.25,390.01 76.13,390.14 75.25,390.14 75.13,390.26 72.25,390.39 72.13,390.51" fill="#0008c0"/>
<polygon points="73.50,389.56 72.13,389.57 71.75,389.67 67.50,389.56 67.00,389.42 64.75,389.29 64.43,388.93 63.90,387.68 63.56,386.43 63.02,382.18 63.05,372.31 63.17,371.81 63.19,370.43 63.69,366.68 64.47,363.43 65.83,359.56 66.63,357.93 67.13,357.18 67.85,356.31 69.00,355.39 70.38,354.50 71.63,353.94 74.13,353.43 76.75,353.48 78.13,353.94 79.13,354.54 80.46,355.93 81.50,357.42 84.01,361.81 85.36,364.81 85.83,366.56 85.97,368.56 85.66,370.43 85.12,372.31 83.40,375.68 82.57,377.56 82.23,378.68 81.96,379.93 81.82,382.43 81.47,385.43 81.13,386.64 80.61,387.68 80.25,388.12 79.92,388.31 78.00,388.91 75.75,389.31 73.50,389.56" fill="#0436fa"/>
<polygon points="73.50,387.82 71.75,387.76 70.13,387.46 68.50,386.88 67.13,386.12 65.88,385.07 64.99,383.93 64.38,382.61 64.23,381.43 64.25,376.75 64.70,372.06 65.51,367.43 66.63,363.42 67.97,360.18 68.75,358.82 69.50,357.79 70.38,356.87 71.25,356.24 72.13,355.87 73.00,355.74 73.75,355.83 74.50,356.11 75.25,356.57 76.00,357.23 77.38,359.03 78.67,361.56 79.77,364.68 80.65,368.18 81.30,372.06 81.72,376.31 80.99,379.06 80.72,382.31 80.25,384.93 78.88,386.11 77.25,386.99 75.38,387.58 73.50,387.82" fill="#0070ff"/>
<polygon points="74.13,386.82 72.50,386.87 70.88,386.65 69.38,386.18 68.13,385.53 67.00,384.65 66.12,383.56 65.59,382.43 65.36,381.18 65.49,376.93 65.92,372.81 66.61,369.06 67.53,365.81 68.68,363.06 70.00,360.99 70.63,360.32 71.38,359.74 72.13,359.39 72.88,359.25 73.63,359.32 74.25,359.54 75.00,360.00 75.63,360.57 76.88,362.25 78.00,364.55 78.98,367.43 79.73,370.68 80.27,374.31 80.58,378.18 80.63,380.43 80.50,382.12 80.16,383.06 79.62,383.93 78.63,384.98 77.25,385.89 75.75,386.49 74.13,386.82" fill="#00b8ff"/>
<polygon points="73.63,386.06 72.25,386.05 71.00,385.85 69.75,385.43 68.63,384.81 67.72,384.06 67.03,383.18 66.57,382.18 66.39,381.18 66.50,377.56 66.86,374.06 67.44,370.81 68.25,367.91 69.25,365.50 70.38,363.73 71.63,362.60 72.25,362.31 72.88,362.19 73.50,362.24 74.13,362.46 75.25,363.31 76.38,364.83 77.39,366.93 78.25,369.56 78.91,372.56 79.35,375.81 79.58,379.31 79.61,381.18 79.50,381.93 79.11,382.93 78.50,383.82 77.55,384.68 76.38,385.37 75.00,385.85 73.63,386.06" fill="#00e8e8"/>
<polygon points="74.13,385.31 72.88,385.40 71.75,385.29 70.63,385.00 69.50,384.48 68.63,383.83 67.95,383.06 67.49,382.18 67.29,381.18 67.38,378.06 67.69,374.93 68.19,372.18 68.89,369.68 69.75,367.60 70.75,366.03 71.75,365.12 72.25,364.86 72.88,364.73 73.88,364.92 74.88,365.63 75.80,366.81 76.63,368.43 77.35,370.43 77.94,372.81 78.37,375.43 78.64,378.31 78.70,381.31 78.51,382.18 78.14,382.93 77.40,383.81 76.50,384.48 75.38,385.00 74.13,385.31" fill="#30e890"/>
<polygon points="74.13,384.70 73.13,384.79 72.00,384.72 71.00,384.47 70.00,384.02 69.25,383.47 68.66,382.81 68.26,382.06 68.07,381.18 68.15,378.43 68.41,375.81 68.84,373.43 69.43,371.31 70.14,369.56 71.00,368.16 71.88,367.32 72.88,366.96 73.75,367.12 74.63,367.74 75.38,368.69 76.09,370.06 76.69,371.68 77.21,373.68 77.59,375.81 77.83,378.18 77.93,381.18 77.78,381.93 77.50,382.56 76.92,383.31 76.13,383.94 75.13,384.42 74.13,384.70" fill="#50e040"/>
<polygon points="73.88,383.69 72.38,383.73 70.88,383.24 70.27,382.81 69.82,382.31 69.55,381.81 69.40,381.18 69.64,377.31 69.95,375.56 70.38,373.97 70.88,372.71 71.50,371.67 72.13,371.05 72.88,370.75 73.50,370.85 74.13,371.26 74.68,371.93 75.23,372.93 76.05,375.56 76.52,378.81 76.60,381.18 76.33,382.06 75.98,382.56 75.38,383.08 74.63,383.47 73.88,383.69" fill="#a8e820"/>
<polygon points="73.75,382.83 72.63,382.90 71.63,382.61 70.88,382.01 70.51,381.18 70.65,378.56 71.16,376.18 71.94,374.56 72.38,374.11 72.88,373.90 73.25,373.92 73.71,374.18 74.44,375.18 75.05,376.93 75.40,379.06 75.50,380.93 75.39,381.56 74.75,382.37 73.75,382.83" fill="#f0e000"/>
<ellipse cx="73" cy="381" rx="3.00" ry="7.20" transform="rotate(0 73 381)" fill="#ffc000"/>
<ellipse cx="73" cy="381" rx="2.40" ry="5.76" transform="rotate(0 73 381)" fill="#ff7000"/>
<ellipse cx="73" cy="381" rx="1.86" ry="4.46" transform="rotate(0 73 381)" fill="#e81000"/>
</g>
<line x1="74.50" y1="326.60" x2="74.50" y2="397.40" stroke="#333" stroke-width="1.0" />
<line x1="51.20" y1="377.50" x2="122.20" y2="377.50" stroke="#333" stroke-width="1.0" />
<rect x="51.20" y="326.60" width="71.00" height="70.80" fill="none" stroke="#9a9a9a" stroke-width="1.0"/>
<line x1="50.70" y1="397.40" x2="122.70" y2="397.40" stroke="#4a4a4a" stroke-width="1.1" />
<rect x="57.80" y="396.80" width="6.2" height="1.7" fill="#1a1a1a"/>
<text x="85.50" y="321.6" font-size="8.3" text-anchor="middle" fill="#111" stroke="#111">A<tspan font-size="4.8" dy="2">2A</tspan><tspan dy="-2">R-a (1µM)</tspan></text>
<text x="108.00" y="371.40" font-size="8.6" text-anchor="middle" font-weight="normal" fill="#111" stroke="#111" >19%</text>
<rect x="154.20" y="326.60" width="71.00" height="70.50" fill="#fff"/>
<line x1="152.20" y1="331.50" x2="154.20" y2="331.50" stroke="#333" stroke-width="1.0" />
<text x="149.90" y="334.50" font-size="8.3" text-anchor="end" font-weight="normal" fill="#111" stroke="#111" >10<tspan font-size="5.3" dy="-3.4">5</tspan></text>
<line x1="152.20" y1="348.00" x2="154.20" y2="348.00" stroke="#333" stroke-width="1.0" />
<text x="149.90" y="351.00" font-size="8.3" text-anchor="end" font-weight="normal" fill="#111" stroke="#111" >10<tspan font-size="5.3" dy="-3.4">4</tspan></text>
<line x1="152.20" y1="364.90" x2="154.20" y2="364.90" stroke="#333" stroke-width="1.0" />
<text x="149.90" y="367.90" font-size="8.3" text-anchor="end" font-weight="normal" fill="#111" stroke="#111" >10<tspan font-size="5.3" dy="-3.4">3</tspan></text>
<line x1="152.20" y1="381.30" x2="154.20" y2="381.30" stroke="#333" stroke-width="1.0" />
<text x="149.90" y="384.30" font-size="8.3" text-anchor="end" font-weight="normal" fill="#111" stroke="#111" >10<tspan font-size="5.3" dy="-3.4">2</tspan></text>
<line x1="152.20" y1="388.40" x2="154.20" y2="388.40" stroke="#333" stroke-width="1.0" />
<text x="149.90" y="391.40" font-size="8.3" text-anchor="end" font-weight="normal" fill="#111" stroke="#111" >0</text>
<line x1="152.20" y1="396.60" x2="154.20" y2="396.60" stroke="#333" stroke-width="1.0" />
<text x="149.90" y="399.60" font-size="8.3" text-anchor="end" font-weight="normal" fill="#111" stroke="#111" >−10<tspan font-size="5.3" dy="-3.4">2</tspan></text>
<line x1="153.10" y1="343.03" x2="154.20" y2="343.03" stroke="#777" stroke-width="0.7" />
<line x1="153.10" y1="340.13" x2="154.20" y2="340.13" stroke="#777" stroke-width="0.7" />
<line x1="153.10" y1="338.07" x2="154.20" y2="338.07" stroke="#777" stroke-width="0.7" />
<line x1="153.10" y1="336.47" x2="154.20" y2="336.47" stroke="#777" stroke-width="0.7" />
<line x1="153.10" y1="335.16" x2="154.20" y2="335.16" stroke="#777" stroke-width="0.7" />
<line x1="153.10" y1="334.06" x2="154.20" y2="334.06" stroke="#777" stroke-width="0.7" />
<line x1="153.10" y1="333.10" x2="154.20" y2="333.10" stroke="#777" stroke-width="0.7" />
<line x1="153.10" y1="332.25" x2="154.20" y2="332.25" stroke="#777" stroke-width="0.7" />
<line x1="153.10" y1="359.81" x2="154.20" y2="359.81" stroke="#777" stroke-width="0.7" />
<line x1="153.10" y1="356.84" x2="154.20" y2="356.84" stroke="#777" stroke-width="0.7" />
<line x1="153.10" y1="354.73" x2="154.20" y2="354.73" stroke="#777" stroke-width="0.7" />
<line x1="153.10" y1="353.09" x2="154.20" y2="353.09" stroke="#777" stroke-width="0.7" />
<line x1="153.10" y1="351.75" x2="154.20" y2="351.75" stroke="#777" stroke-width="0.7" />
<line x1="153.10" y1="350.62" x2="154.20" y2="350.62" stroke="#777" stroke-width="0.7" />
<line x1="153.10" y1="349.64" x2="154.20" y2="349.64" stroke="#777" stroke-width="0.7" />
<line x1="153.10" y1="348.77" x2="154.20" y2="348.77" stroke="#777" stroke-width="0.7" />
<line x1="153.10" y1="376.36" x2="154.20" y2="376.36" stroke="#777" stroke-width="0.7" />
<line x1="153.10" y1="373.48" x2="154.20" y2="373.48" stroke="#777" stroke-width="0.7" />
<line x1="153.10" y1="371.43" x2="154.20" y2="371.43" stroke="#777" stroke-width="0.7" />
<line x1="153.10" y1="369.84" x2="154.20" y2="369.84" stroke="#777" stroke-width="0.7" />
<line x1="153.10" y1="368.54" x2="154.20" y2="368.54" stroke="#777" stroke-width="0.7" />
<line x1="153.10" y1="367.44" x2="154.20" y2="367.44" stroke="#777" stroke-width="0.7" />
<line x1="153.10" y1="366.49" x2="154.20" y2="366.49" stroke="#777" stroke-width="0.7" />
<line x1="153.10" y1="365.65" x2="154.20" y2="365.65" stroke="#777" stroke-width="0.7" />
<line x1="165.30" y1="397.10" x2="165.30" y2="399.10" stroke="#333" stroke-width="1.0" />
<text x="165.30" y="409.40" font-size="8.3" text-anchor="middle" font-weight="normal" fill="#111" stroke="#111" >0</text>
<line x1="177.50" y1="397.10" x2="177.50" y2="399.10" stroke="#333" stroke-width="1.0" />
<text x="178.40" y="409.40" font-size="8.3" text-anchor="middle" font-weight="normal" fill="#111" stroke="#111" >10<tspan font-size="5.3" dy="-3.4">2</tspan></text>
<line x1="191.70" y1="397.10" x2="191.70" y2="399.10" stroke="#333" stroke-width="1.0" />
<text x="192.60" y="409.40" font-size="8.3" text-anchor="middle" font-weight="normal" fill="#111" stroke="#111" >10<tspan font-size="5.3" dy="-3.4">3</tspan></text>
<line x1="205.70" y1="397.10" x2="205.70" y2="399.10" stroke="#333" stroke-width="1.0" />
<text x="206.60" y="409.40" font-size="8.3" text-anchor="middle" font-weight="normal" fill="#111" stroke="#111" >10<tspan font-size="5.3" dy="-3.4">4</tspan></text>
<line x1="219.40" y1="397.10" x2="219.40" y2="399.10" stroke="#333" stroke-width="1.0" />
<text x="220.30" y="409.40" font-size="8.3" text-anchor="middle" font-weight="normal" fill="#111" stroke="#111" >10<tspan font-size="5.3" dy="-3.4">5</tspan></text>
<line x1="181.77" y1="397.10" x2="181.77" y2="398.20" stroke="#777" stroke-width="0.7" />
<line x1="184.28" y1="397.10" x2="184.28" y2="398.20" stroke="#777" stroke-width="0.7" />
<line x1="186.05" y1="397.10" x2="186.05" y2="398.20" stroke="#777" stroke-width="0.7" />
<line x1="187.43" y1="397.10" x2="187.43" y2="398.20" stroke="#777" stroke-width="0.7" />
<line x1="188.55" y1="397.10" x2="188.55" y2="398.20" stroke="#777" stroke-width="0.7" />
<line x1="189.50" y1="397.10" x2="189.50" y2="398.20" stroke="#777" stroke-width="0.7" />
<line x1="190.32" y1="397.10" x2="190.32" y2="398.20" stroke="#777" stroke-width="0.7" />
<line x1="191.05" y1="397.10" x2="191.05" y2="398.20" stroke="#777" stroke-width="0.7" />
<line x1="195.91" y1="397.10" x2="195.91" y2="398.20" stroke="#777" stroke-width="0.7" />
<line x1="198.38" y1="397.10" x2="198.38" y2="398.20" stroke="#777" stroke-width="0.7" />
<line x1="200.13" y1="397.10" x2="200.13" y2="398.20" stroke="#777" stroke-width="0.7" />
<line x1="201.49" y1="397.10" x2="201.49" y2="398.20" stroke="#777" stroke-width="0.7" />
<line x1="202.59" y1="397.10" x2="202.59" y2="398.20" stroke="#777" stroke-width="0.7" />
<line x1="203.53" y1="397.10" x2="203.53" y2="398.20" stroke="#777" stroke-width="0.7" />
<line x1="204.34" y1="397.10" x2="204.34" y2="398.20" stroke="#777" stroke-width="0.7" />
<line x1="205.06" y1="397.10" x2="205.06" y2="398.20" stroke="#777" stroke-width="0.7" />
<line x1="209.82" y1="397.10" x2="209.82" y2="398.20" stroke="#777" stroke-width="0.7" />
<line x1="212.24" y1="397.10" x2="212.24" y2="398.20" stroke="#777" stroke-width="0.7" />
<line x1="213.95" y1="397.10" x2="213.95" y2="398.20" stroke="#777" stroke-width="0.7" />
<line x1="215.28" y1="397.10" x2="215.28" y2="398.20" stroke="#777" stroke-width="0.7" />
<line x1="216.36" y1="397.10" x2="216.36" y2="398.20" stroke="#777" stroke-width="0.7" />
<line x1="217.28" y1="397.10" x2="217.28" y2="398.20" stroke="#777" stroke-width="0.7" />
<line x1="218.07" y1="397.10" x2="218.07" y2="398.20" stroke="#777" stroke-width="0.7" />
<line x1="218.77" y1="397.10" x2="218.77" y2="398.20" stroke="#777" stroke-width="0.7" />
<g filter="url(#bl)">
<polygon points="173.16,390.30 169.78,390.30 169.66,390.18 167.78,390.18 167.66,390.05 165.53,390.17 165.28,390.05 164.81,389.46 164.56,388.46 164.43,388.33 164.31,386.96 164.18,386.83 164.18,385.83 164.06,385.71 164.06,383.96 163.93,383.83 163.94,370.96 164.06,370.83 164.06,368.21 164.19,368.08 164.19,365.96 164.31,365.83 164.31,364.08 164.44,363.96 164.44,362.58 164.56,362.46 164.69,359.96 164.81,359.83 164.82,358.96 164.94,358.83 164.94,358.08 165.07,357.96 165.07,357.21 165.19,357.08 165.19,356.58 165.32,356.46 165.32,355.83 165.44,355.71 165.57,354.71 165.82,354.21 165.82,353.83 166.19,352.96 166.19,352.71 167.32,350.46 168.53,349.12 169.53,348.49 170.53,348.12 172.53,348.12 172.66,348.24 173.03,348.25 173.16,348.37 173.78,348.50 175.66,349.50 176.66,350.25 177.98,351.58 178.60,352.46 179.35,354.21 179.35,354.58 179.60,355.21 179.60,355.83 179.72,355.96 179.72,356.96 179.85,357.08 179.85,358.83 179.97,358.96 179.98,361.58 180.10,361.71 180.11,376.96 179.98,377.08 179.98,381.96 179.86,382.08 179.86,383.96 179.74,384.08 179.74,385.21 179.61,385.33 179.49,386.58 179.36,386.71 179.36,387.08 178.86,388.46 178.49,388.96 178.03,389.29 176.41,389.92 175.03,390.05 174.91,390.17 173.28,390.18 173.16,390.30" fill="#0008c0"/>
<polygon points="171.78,389.83 170.03,389.85 169.66,389.74 168.03,389.71 167.66,389.59 165.78,389.63 165.53,389.51 164.92,388.08 164.78,387.46 164.52,385.46 164.52,383.96 164.41,383.58 164.47,371.21 164.59,370.83 164.62,368.46 164.74,368.08 164.90,364.33 165.01,364.08 165.17,361.46 165.72,357.46 166.50,354.08 167.13,352.33 167.70,351.21 168.80,349.83 169.91,349.14 170.91,348.82 172.16,348.84 172.78,349.01 174.66,349.90 176.28,351.14 177.03,351.96 177.71,352.96 178.36,354.58 178.72,356.33 178.89,358.96 178.99,359.33 179.04,361.71 179.15,362.08 179.27,376.58 179.17,377.08 179.18,381.58 179.08,381.96 178.96,384.83 178.59,386.83 178.16,388.08 177.69,388.58 177.28,388.82 176.16,389.27 174.66,389.60 171.78,389.83" fill="#0436fa"/>
<polygon points="171.28,389.08 170.28,389.11 166.16,388.73 165.76,387.83 165.44,386.33 165.23,383.33 165.41,371.46 165.93,364.58 166.43,360.46 167.18,356.33 168.03,353.56 168.53,352.53 169.16,352.09 169.91,351.87 170.66,352.00 171.28,352.37 171.91,352.99 172.53,353.87 173.76,356.46 174.82,359.83 175.76,364.08 176.51,368.96 177.07,374.46 177.40,380.33 177.51,385.96 177.03,387.57 175.91,388.19 174.41,388.67 172.66,388.99 171.28,389.08" fill="#0070ff"/>
<polygon points="172.41,388.84 170.28,388.95 166.28,388.57 165.77,387.21 165.50,385.21 165.42,382.21 165.61,371.58 165.98,366.58 166.50,361.83 166.78,360.50 167.91,358.18 168.91,357.02 169.41,356.72 169.91,356.60 170.41,356.66 170.91,356.89 171.91,357.91 172.84,359.58 173.68,361.83 174.46,364.71 175.13,368.08 175.68,371.96 176.10,376.21 176.44,383.08 176.47,386.08 176.33,386.96 175.84,387.96 174.41,388.46 172.41,388.84" fill="#00b8ff"/>
<polygon points="172.03,388.71 170.28,388.81 166.41,388.37 165.94,387.21 165.67,385.21 165.58,383.21 165.74,373.71 165.80,371.58 166.16,367.53 166.99,364.58 167.91,362.43 168.91,361.07 169.41,360.72 169.91,360.58 170.78,360.83 171.66,361.72 172.48,363.21 173.22,365.21 173.88,367.71 174.47,370.71 174.94,374.08 175.30,377.83 175.57,383.71 175.59,386.08 175.48,386.83 174.81,388.08 174.28,388.29 172.03,388.71" fill="#00e8e8"/>
<polygon points="171.78,388.59 170.28,388.67 168.28,388.49 166.53,388.19 166.11,387.21 165.84,385.21 165.74,383.21 165.91,374.28 166.35,371.58 167.05,368.58 167.91,366.17 168.91,364.58 169.41,364.17 169.91,364.01 170.66,364.21 171.41,364.96 172.16,366.31 172.78,368.00 173.37,370.21 173.85,372.71 174.57,378.83 174.82,383.96 174.84,386.08 174.74,386.71 174.41,387.46 173.77,388.21 171.78,388.59" fill="#30e890"/>
<polygon points="171.66,388.46 170.28,388.53 168.41,388.37 166.96,388.08 166.41,387.54 166.27,387.21 165.98,385.08 165.91,382.29 166.10,379.21 166.49,375.71 167.03,372.66 167.66,370.30 168.34,368.58 169.16,367.41 169.91,367.03 170.53,367.18 171.16,367.76 171.78,368.84 172.35,370.33 173.29,374.33 173.92,379.46 174.15,383.83 174.10,386.58 173.75,387.33 173.04,388.08 172.53,388.35 171.66,388.46" fill="#50e040"/>
<polygon points="170.28,388.21 169.03,388.10 167.91,387.61 167.17,386.83 166.95,385.96 167.19,380.58 167.87,376.08 168.36,374.33 168.91,373.07 169.41,372.41 170.03,372.14 170.66,372.47 171.16,373.18 171.66,374.36 172.10,375.96 172.76,380.08 173.04,385.08 173.01,386.33 172.56,387.21 171.53,387.92 170.28,388.21" fill="#a8e820"/>
<polygon points="170.66,387.46 169.66,387.52 168.78,387.26 168.12,386.71 167.89,386.08 168.05,382.33 168.51,379.21 169.16,377.19 169.53,376.63 170.03,376.39 170.41,376.57 170.66,376.86 171.28,378.35 171.76,380.71 172.05,383.58 172.07,386.33 171.53,387.06 170.66,387.46" fill="#f0e000"/>
<ellipse cx="170" cy="385.6" rx="4.20" ry="3.80" transform="rotate(0 170 385.6)" fill="#ffc000"/>
<ellipse cx="170" cy="385.6" rx="3.36" ry="3.04" transform="rotate(0 170 385.6)" fill="#ff7000"/>
<ellipse cx="170" cy="385.6" rx="2.60" ry="2.36" transform="rotate(0 170 385.6)" fill="#e81000"/>
</g>
<line x1="177.50" y1="326.60" x2="177.50" y2="397.40" stroke="#333" stroke-width="1.0" />
<line x1="154.20" y1="377.50" x2="225.20" y2="377.50" stroke="#333" stroke-width="1.0" />
<rect x="154.20" y="326.60" width="71.00" height="70.80" fill="none" stroke="#9a9a9a" stroke-width="1.0"/>
<line x1="153.70" y1="397.40" x2="225.70" y2="397.40" stroke="#4a4a4a" stroke-width="1.1" />
<rect x="160.80" y="396.80" width="6.2" height="1.7" fill="#1a1a1a"/>
<text x="188.50" y="321.6" font-size="8.3" text-anchor="middle" fill="#111" stroke="#111">A<tspan font-size="4.8" dy="2">2A</tspan><tspan dy="-2">R-a (5µM)</tspan></text>
<text x="210.30" y="371.40" font-size="8.6" text-anchor="middle" font-weight="normal" fill="#111" stroke="#111" >4%</text>
<rect x="256.80" y="326.60" width="71.00" height="70.50" fill="#fff"/>
<line x1="254.80" y1="331.50" x2="256.80" y2="331.50" stroke="#333" stroke-width="1.0" />
<text x="252.50" y="334.50" font-size="8.3" text-anchor="end" font-weight="normal" fill="#111" stroke="#111" >10<tspan font-size="5.3" dy="-3.4">5</tspan></text>
<line x1="254.80" y1="348.00" x2="256.80" y2="348.00" stroke="#333" stroke-width="1.0" />
<text x="252.50" y="351.00" font-size="8.3" text-anchor="end" font-weight="normal" fill="#111" stroke="#111" >10<tspan font-size="5.3" dy="-3.4">4</tspan></text>
<line x1="254.80" y1="364.90" x2="256.80" y2="364.90" stroke="#333" stroke-width="1.0" />
<text x="252.50" y="367.90" font-size="8.3" text-anchor="end" font-weight="normal" fill="#111" stroke="#111" >10<tspan font-size="5.3" dy="-3.4">3</tspan></text>
<line x1="254.80" y1="381.30" x2="256.80" y2="381.30" stroke="#333" stroke-width="1.0" />
<text x="252.50" y="384.30" font-size="8.3" text-anchor="end" font-weight="normal" fill="#111" stroke="#111" >10<tspan font-size="5.3" dy="-3.4">2</tspan></text>
<line x1="254.80" y1="388.40" x2="256.80" y2="388.40" stroke="#333" stroke-width="1.0" />
<text x="252.50" y="391.40" font-size="8.3" text-anchor="end" font-weight="normal" fill="#111" stroke="#111" >0</text>
<line x1="254.80" y1="396.60" x2="256.80" y2="396.60" stroke="#333" stroke-width="1.0" />
<text x="252.50" y="399.60" font-size="8.3" text-anchor="end" font-weight="normal" fill="#111" stroke="#111" >−10<tspan font-size="5.3" dy="-3.4">2</tspan></text>
<line x1="255.70" y1="343.03" x2="256.80" y2="343.03" stroke="#777" stroke-width="0.7" />
<line x1="255.70" y1="340.13" x2="256.80" y2="340.13" stroke="#777" stroke-width="0.7" />
<line x1="255.70" y1="338.07" x2="256.80" y2="338.07" stroke="#777" stroke-width="0.7" />
<line x1="255.70" y1="336.47" x2="256.80" y2="336.47" stroke="#777" stroke-width="0.7" />
<line x1="255.70" y1="335.16" x2="256.80" y2="335.16" stroke="#777" stroke-width="0.7" />
<line x1="255.70" y1="334.06" x2="256.80" y2="334.06" stroke="#777" stroke-width="0.7" />
<line x1="255.70" y1="333.10" x2="256.80" y2="333.10" stroke="#777" stroke-width="0.7" />
<line x1="255.70" y1="332.25" x2="256.80" y2="332.25" stroke="#777" stroke-width="0.7" />
<line x1="255.70" y1="359.81" x2="256.80" y2="359.81" stroke="#777" stroke-width="0.7" />
<line x1="255.70" y1="356.84" x2="256.80" y2="356.84" stroke="#777" stroke-width="0.7" />
<line x1="255.70" y1="354.73" x2="256.80" y2="354.73" stroke="#777" stroke-width="0.7" />
<line x1="255.70" y1="353.09" x2="256.80" y2="353.09" stroke="#777" stroke-width="0.7" />
<line x1="255.70" y1="351.75" x2="256.80" y2="351.75" stroke="#777" stroke-width="0.7" />
<line x1="255.70" y1="350.62" x2="256.80" y2="350.62" stroke="#777" stroke-width="0.7" />
<line x1="255.70" y1="349.64" x2="256.80" y2="349.64" stroke="#777" stroke-width="0.7" />
<line x1="255.70" y1="348.77" x2="256.80" y2="348.77" stroke="#777" stroke-width="0.7" />
<line x1="255.70" y1="376.36" x2="256.80" y2="376.36" stroke="#777" stroke-width="0.7" />
<line x1="255.70" y1="373.48" x2="256.80" y2="373.48" stroke="#777" stroke-width="0.7" />
<line x1="255.70" y1="371.43" x2="256.80" y2="371.43" stroke="#777" stroke-width="0.7" />
<line x1="255.70" y1="369.84" x2="256.80" y2="369.84" stroke="#777" stroke-width="0.7" />
<line x1="255.70" y1="368.54" x2="256.80" y2="368.54" stroke="#777" stroke-width="0.7" />
<line x1="255.70" y1="367.44" x2="256.80" y2="367.44" stroke="#777" stroke-width="0.7" />
<line x1="255.70" y1="366.49" x2="256.80" y2="366.49" stroke="#777" stroke-width="0.7" />
<line x1="255.70" y1="365.65" x2="256.80" y2="365.65" stroke="#777" stroke-width="0.7" />
<line x1="267.90" y1="397.10" x2="267.90" y2="399.10" stroke="#333" stroke-width="1.0" />
<text x="267.90" y="409.40" font-size="8.3" text-anchor="middle" font-weight="normal" fill="#111" stroke="#111" >0</text>
<line x1="280.10" y1="397.10" x2="280.10" y2="399.10" stroke="#333" stroke-width="1.0" />
<text x="281.00" y="409.40" font-size="8.3" text-anchor="middle" font-weight="normal" fill="#111" stroke="#111" >10<tspan font-size="5.3" dy="-3.4">2</tspan></text>
<line x1="294.30" y1="397.10" x2="294.30" y2="399.10" stroke="#333" stroke-width="1.0" />
<text x="295.20" y="409.40" font-size="8.3" text-anchor="middle" font-weight="normal" fill="#111" stroke="#111" >10<tspan font-size="5.3" dy="-3.4">3</tspan></text>
<line x1="308.30" y1="397.10" x2="308.30" y2="399.10" stroke="#333" stroke-width="1.0" />
<text x="309.20" y="409.40" font-size="8.3" text-anchor="middle" font-weight="normal" fill="#111" stroke="#111" >10<tspan font-size="5.3" dy="-3.4">4</tspan></text>
<line x1="322.00" y1="397.10" x2="322.00" y2="399.10" stroke="#333" stroke-width="1.0" />
<text x="322.90" y="409.40" font-size="8.3" text-anchor="middle" font-weight="normal" fill="#111" stroke="#111" >10<tspan font-size="5.3" dy="-3.4">5</tspan></text>
<line x1="284.37" y1="397.10" x2="284.37" y2="398.20" stroke="#777" stroke-width="0.7" />
<line x1="286.88" y1="397.10" x2="286.88" y2="398.20" stroke="#777" stroke-width="0.7" />
<line x1="288.65" y1="397.10" x2="288.65" y2="398.20" stroke="#777" stroke-width="0.7" />
<line x1="290.03" y1="397.10" x2="290.03" y2="398.20" stroke="#777" stroke-width="0.7" />
<line x1="291.15" y1="397.10" x2="291.15" y2="398.20" stroke="#777" stroke-width="0.7" />
<line x1="292.10" y1="397.10" x2="292.10" y2="398.20" stroke="#777" stroke-width="0.7" />
<line x1="292.92" y1="397.10" x2="292.92" y2="398.20" stroke="#777" stroke-width="0.7" />
<line x1="293.65" y1="397.10" x2="293.65" y2="398.20" stroke="#777" stroke-width="0.7" />
<line x1="298.51" y1="397.10" x2="298.51" y2="398.20" stroke="#777" stroke-width="0.7" />
<line x1="300.98" y1="397.10" x2="300.98" y2="398.20" stroke="#777" stroke-width="0.7" />
<line x1="302.73" y1="397.10" x2="302.73" y2="398.20" stroke="#777" stroke-width="0.7" />
<line x1="304.09" y1="397.10" x2="304.09" y2="398.20" stroke="#777" stroke-width="0.7" />
<line x1="305.19" y1="397.10" x2="305.19" y2="398.20" stroke="#777" stroke-width="0.7" />
<line x1="306.13" y1="397.10" x2="306.13" y2="398.20" stroke="#777" stroke-width="0.7" />
<line x1="306.94" y1="397.10" x2="306.94" y2="398.20" stroke="#777" stroke-width="0.7" />
<line x1="307.66" y1="397.10" x2="307.66" y2="398.20" stroke="#777" stroke-width="0.7" />
<line x1="312.42" y1="397.10" x2="312.42" y2="398.20" stroke="#777" stroke-width="0.7" />
<line x1="314.84" y1="397.10" x2="314.84" y2="398.20" stroke="#777" stroke-width="0.7" />
<line x1="316.55" y1="397.10" x2="316.55" y2="398.20" stroke="#777" stroke-width="0.7" />
<line x1="317.88" y1="397.10" x2="317.88" y2="398.20" stroke="#777" stroke-width="0.7" />
<line x1="318.96" y1="397.10" x2="318.96" y2="398.20" stroke="#777" stroke-width="0.7" />
<line x1="319.88" y1="397.10" x2="319.88" y2="398.20" stroke="#777" stroke-width="0.7" />
<line x1="320.67" y1="397.10" x2="320.67" y2="398.20" stroke="#777" stroke-width="0.7" />
<line x1="321.37" y1="397.10" x2="321.37" y2="398.20" stroke="#777" stroke-width="0.7" />
<g filter="url(#bl)">
<polygon points="277.60,390.22 271.60,390.23 271.48,390.10 268.60,390.10 268.13,389.75 268.01,389.25 267.76,388.88 267.63,388.00 267.50,387.88 267.50,387.25 267.38,387.13 267.38,386.38 267.25,386.25 267.13,382.88 267.00,382.75 267.01,371.38 267.13,371.25 267.13,369.00 267.26,368.88 267.38,365.50 267.51,365.38 267.51,364.25 267.63,364.13 267.63,363.13 267.76,363.00 267.76,362.25 267.88,362.13 268.01,360.63 268.14,360.50 268.26,359.38 268.39,359.25 268.39,358.88 268.64,358.38 268.64,358.00 268.89,357.50 268.89,357.25 270.14,354.75 270.98,353.79 271.85,353.04 273.10,352.41 273.48,352.41 273.60,352.29 275.85,352.29 275.98,352.42 276.35,352.42 276.48,352.54 277.10,352.67 278.35,353.30 279.60,354.18 281.42,356.00 282.54,358.00 282.54,358.25 282.79,358.63 282.79,358.88 283.04,359.38 283.04,359.75 283.29,360.25 283.29,360.75 283.41,360.88 283.54,361.88 283.66,362.00 283.66,362.63 283.79,362.75 283.79,363.50 283.91,363.63 284.04,365.63 284.16,365.75 284.16,367.50 284.29,367.63 284.29,373.13 284.17,380.38 284.05,380.50 284.05,383.13 283.92,383.25 283.92,384.75 283.80,384.88 283.80,385.75 283.67,385.88 283.67,386.38 283.55,386.50 283.42,387.38 283.30,387.50 283.17,388.13 282.67,389.00 281.98,389.45 281.35,389.58 281.23,389.70 280.85,389.71 280.73,389.83 280.23,389.83 280.10,389.96 277.73,390.09 277.60,390.22" fill="#0008c0"/>
<polygon points="276.60,389.63 271.85,389.73 271.48,389.62 268.78,389.50 268.26,388.63 267.96,387.63 267.55,384.63 267.56,382.88 267.44,382.50 267.51,371.63 267.63,371.25 267.65,369.25 267.77,368.88 267.93,365.75 268.60,360.88 269.51,357.50 270.79,355.00 271.48,354.20 272.10,353.71 273.35,353.09 273.98,352.96 275.48,353.00 276.98,353.52 277.98,354.09 279.23,355.07 280.53,356.50 281.52,358.38 282.22,360.63 282.71,363.13 283.09,366.25 283.22,368.13 283.26,373.38 283.19,380.00 283.08,380.50 282.98,384.38 282.51,387.00 282.08,388.13 281.60,388.57 279.73,389.20 276.60,389.63" fill="#0436fa"/>
<polygon points="274.35,388.88 272.10,388.94 269.29,388.63 268.79,387.50 268.43,385.88 268.21,382.25 268.40,371.88 268.92,366.00 269.55,361.88 270.13,359.38 270.91,357.25 271.52,356.13 272.20,355.25 272.88,354.75 273.48,354.49 273.85,354.61 274.60,355.36 275.84,357.38 276.92,360.13 277.86,363.50 278.65,367.50 279.29,372.13 279.74,377.13 279.97,382.13 279.98,386.00 279.72,387.00 279.17,388.00 277.10,388.59 274.35,388.88" fill="#0070ff"/>
<polygon points="273.60,388.75 272.10,388.78 269.48,388.50 269.35,388.40 268.93,387.38 268.58,385.75 268.38,382.25 268.59,371.88 268.97,367.63 269.48,363.71 270.23,360.18 271.35,358.88 271.85,358.59 272.48,358.45 273.10,358.57 273.60,358.85 274.23,359.43 274.73,360.11 275.76,362.13 276.72,365.00 277.51,368.38 278.16,372.38 278.62,376.75 278.89,381.38 278.95,385.88 278.73,386.75 278.27,387.63 277.86,388.13 276.98,388.39 273.60,388.75" fill="#00b8ff"/>
<polygon points="274.73,388.51 272.10,388.62 269.60,388.34 269.10,387.38 268.73,385.75 268.54,382.25 268.71,374.00 268.78,372.00 269.35,366.17 270.04,364.50 270.77,363.25 271.60,362.41 272.35,362.12 273.23,362.31 274.10,363.09 274.85,364.28 275.63,366.13 276.31,368.38 276.91,371.13 277.75,377.38 278.05,382.75 278.09,385.50 278.00,386.25 277.48,387.35 276.62,388.25 274.73,388.51" fill="#00e8e8"/>
<polygon points="274.48,388.38 272.23,388.48 269.73,388.20 269.28,387.38 268.88,385.75 268.71,380.75 268.95,372.38 269.10,371.09 269.83,368.63 270.60,366.89 271.48,365.72 272.35,365.28 273.10,365.42 273.85,366.07 274.53,367.13 275.17,368.63 275.75,370.50 276.28,372.88 277.02,378.25 277.30,382.88 277.26,386.13 276.87,387.00 276.10,387.85 275.51,388.25 274.48,388.38" fill="#30e890"/>
<polygon points="274.23,388.26 272.23,388.34 270.41,388.13 270.10,387.99 269.60,387.69 269.44,387.38 269.02,385.63 268.84,382.13 268.88,379.88 268.98,376.13 269.23,374.63 269.85,372.00 270.60,369.95 271.48,368.57 271.85,368.25 272.35,368.05 272.98,368.16 273.60,368.66 274.23,369.61 274.83,371.00 275.77,374.63 276.40,379.25 276.64,383.13 276.62,386.00 276.30,386.75 275.78,387.38 275.09,387.88 274.23,388.26" fill="#50e040"/>
<polygon points="273.23,387.65 271.98,387.68 270.73,387.30 269.85,386.60 269.58,386.13 269.46,385.63 269.67,380.75 270.34,376.50 270.81,374.88 271.35,373.69 271.85,373.04 272.48,372.75 272.98,372.91 273.48,373.42 273.98,374.35 274.43,375.63 275.11,378.88 275.48,382.88 275.55,385.50 275.37,386.25 275.01,386.75 274.57,387.13 273.23,387.65" fill="#a8e820"/>
<polygon points="272.85,387.02 271.98,386.99 271.10,386.65 270.57,386.13 270.39,385.50 270.53,382.25 270.98,379.37 271.67,377.38 272.10,376.82 272.48,376.66 272.85,376.78 273.23,377.20 273.85,378.70 274.34,381.13 274.59,384.13 274.61,385.63 274.43,386.13 273.73,386.75 272.85,387.02" fill="#f0e000"/>
<ellipse cx="272.5" cy="385.4" rx="3.80" ry="3.40" transform="rotate(0 272.5 385.4)" fill="#ffc000"/>
<ellipse cx="272.5" cy="385.4" rx="3.04" ry="2.72" transform="rotate(0 272.5 385.4)" fill="#ff7000"/>
<ellipse cx="272.5" cy="385.4" rx="2.36" ry="2.11" transform="rotate(0 272.5 385.4)" fill="#e81000"/>
</g>
<line x1="280.50" y1="326.60" x2="280.50" y2="397.40" stroke="#333" stroke-width="1.0" />
<line x1="256.80" y1="377.50" x2="327.80" y2="377.50" stroke="#333" stroke-width="1.0" />
<rect x="256.80" y="326.60" width="71.00" height="70.80" fill="none" stroke="#9a9a9a" stroke-width="1.0"/>
<line x1="256.30" y1="397.40" x2="328.30" y2="397.40" stroke="#4a4a4a" stroke-width="1.1" />
<rect x="263.40" y="396.80" width="6.2" height="1.7" fill="#1a1a1a"/>
<text x="291.10" y="321.6" font-size="8.3" text-anchor="middle" fill="#111" stroke="#111">A<tspan font-size="4.8" dy="2">2A</tspan><tspan dy="-2">R-a (10µM)</tspan></text>
<text x="313.50" y="371.40" font-size="8.6" text-anchor="middle" font-weight="normal" fill="#111" stroke="#111" >3%</text>
<text x="36.50" y="443.60" font-size="12.6" text-anchor="start" font-weight="bold" fill="#000" stroke="#000" >F</text>
<text x="144.40" y="445.60" font-size="8.2" text-anchor="middle" font-weight="normal" fill="#111" stroke="#111" textLength="36" lengthAdjust="spacingAndGlyphs" >Time (min)</text>
<line x1="85.50" y1="449.50" x2="200.50" y2="449.50" stroke="#444" stroke-width="0.9" />
<text x="97.50" y="458.90" font-size="8.3" text-anchor="middle" font-weight="normal" fill="#111" stroke="#111" >0</text>
<text x="121.25" y="458.90" font-size="8.3" text-anchor="middle" font-weight="normal" fill="#111" stroke="#111" >15</text>
<text x="144.50" y="458.90" font-size="8.3" text-anchor="middle" font-weight="normal" fill="#111" stroke="#111" >30</text>
<text x="168.00" y="458.90" font-size="8.3" text-anchor="middle" font-weight="normal" fill="#111" stroke="#111" >45</text>
<text x="191.25" y="458.90" font-size="8.3" text-anchor="middle" font-weight="normal" fill="#111" stroke="#111" >60</text>
<line x1="62.30" y1="464.70" x2="62.30" y2="593.30" stroke="#555" stroke-width="0.9" />
<text x="58.60" y="528.50" font-size="8.0" text-anchor="middle" font-weight="normal" fill="#111" stroke="#111" transform="rotate(-90 58.60 528.50)" textLength="76" lengthAdjust="spacingAndGlyphs" >Thrombin (0.25U/mL)</text>
<text x="81.60" y="482.30" font-size="8.4" text-anchor="middle" font-weight="normal" fill="#111" stroke="#111" transform="rotate(-90 81.60 482.30)" textLength="35" lengthAdjust="spacingAndGlyphs" >Cont IgG</text>
<text x="81.60" y="525.40" font-size="8.4" text-anchor="middle" font-weight="normal" fill="#111" stroke="#111" transform="rotate(-90 81.60 525.40)" textLength="31.6" lengthAdjust="spacingAndGlyphs" >APS IgG</text>
<text x="72.00" y="576.30" font-size="8.4" text-anchor="middle" font-weight="normal" fill="#111" stroke="#111" transform="rotate(-90 72.00 576.30)" textLength="31.5" lengthAdjust="spacingAndGlyphs" >APS IgG</text>
<text x="81.6" y="577" font-size="8.4" text-anchor="middle" fill="#111" stroke="#111" transform="rotate(-90 81.6 577)">+ A<tspan font-size="5.2" dy="1.6">2A</tspan><tspan dy="-1.6">R-a</tspan></text>
<g filter="url(#cb)">
<rect x="85.00" y="461.30" width="23.60" height="43.20" fill="url(#tan)"/>
<rect x="92.08" y="462.16" width="9.44" height="10.80" fill="#c8baa6" opacity="0.5"/>
<rect x="85.00" y="472.96" width="23.60" height="30.24" fill="#d8743a" opacity="0.6"/>
<rect x="86.65" y="472.96" width="20.30" height="29.38" fill="url(#red)" rx="0.5"/>
<rect x="86.89" y="501.69" width="19.82" height="1.51" fill="#8a4a1a" opacity="0.6"/>
<rect x="109.60" y="461.30" width="23.20" height="43.20" fill="url(#tan)"/>
<rect x="116.56" y="462.16" width="9.28" height="10.37" fill="#c8baa6" opacity="0.5"/>
<rect x="109.60" y="472.53" width="23.20" height="30.67" fill="#d8743a" opacity="0.6"/>
<rect x="111.22" y="472.53" width="19.95" height="29.81" fill="#b4601a" rx="0.5"/>
<rect x="111.22" y="494.13" width="19.95" height="8.21" fill="url(#yel)" rx="0.5"/>
<rect x="111.22" y="472.96" width="19.95" height="22.03" fill="url(#red)" rx="1.5"/>
<rect x="111.46" y="501.69" width="19.49" height="1.51" fill="#8a4a1a" opacity="0.6"/>
<rect x="133.80" y="461.30" width="22.20" height="43.20" fill="url(#tan)"/>
<rect x="140.46" y="462.16" width="8.88" height="10.80" fill="#c8baa6" opacity="0.5"/>
<rect x="133.80" y="472.96" width="22.20" height="30.24" fill="#d8743a" opacity="0.6"/>
<rect x="135.35" y="472.96" width="19.09" height="29.38" fill="#b4601a" rx="0.5"/>
<rect x="135.35" y="488.95" width="19.09" height="13.39" fill="url(#yel)" rx="0.5"/>
<rect x="137.57" y="476.42" width="14.43" height="15.12" fill="#961010" rx="2.5"/>
<rect x="135.58" y="501.69" width="18.65" height="1.51" fill="#8a4a1a" opacity="0.6"/>
<rect x="157.00" y="461.30" width="22.60" height="43.20" fill="url(#tan)"/>
<rect x="163.78" y="462.16" width="9.04" height="10.37" fill="#c8baa6" opacity="0.5"/>
<rect x="157.00" y="472.53" width="22.60" height="30.67" fill="#d8743a" opacity="0.6"/>
<rect x="158.58" y="472.53" width="19.44" height="29.81" fill="#b4601a" rx="0.5"/>
<polygon points="163.78,488.08 176.89,482.90 176.89,502.34 159.71,502.34 159.71,491.54" fill="url(#yel)"/>
<rect x="161.52" y="474.26" width="11.30" height="14.69" fill="#961010" rx="2.5"/>
<rect x="158.81" y="501.69" width="18.98" height="1.51" fill="#8a4a1a" opacity="0.6"/>
<rect x="180.60" y="461.30" width="21.60" height="43.20" fill="url(#tan)"/>
<rect x="187.08" y="462.16" width="8.64" height="10.80" fill="#c8baa6" opacity="0.5"/>
<rect x="180.60" y="472.96" width="21.60" height="30.24" fill="#d8743a" opacity="0.6"/>
<rect x="182.11" y="472.96" width="18.58" height="29.38" fill="#b4601a" rx="0.5"/>
<polygon points="188.16,483.76 199.61,480.74 199.61,502.34 183.62,502.34 183.62,489.38" fill="url(#yel)"/>
<rect x="186.43" y="477.28" width="8.64" height="9.07" fill="#961010" rx="2"/>
<rect x="182.33" y="501.69" width="18.14" height="1.51" fill="#8a4a1a" opacity="0.6"/>
<rect x="85.00" y="505.70" width="23.60" height="43.70" fill="url(#tan)"/>
<rect x="92.08" y="506.57" width="9.44" height="9.61" fill="#c8baa6" opacity="0.5"/>
<rect x="85.00" y="516.19" width="23.60" height="31.90" fill="#d8743a" opacity="0.6"/>
<rect x="86.65" y="516.19" width="20.30" height="30.59" fill="url(#red)" rx="0.5"/>
<rect x="86.89" y="546.56" width="19.82" height="1.53" fill="#8a4a1a" opacity="0.6"/>
<rect x="109.60" y="505.70" width="23.20" height="43.70" fill="url(#tan)"/>
<rect x="116.56" y="506.57" width="9.28" height="11.36" fill="#c8baa6" opacity="0.5"/>
<rect x="109.60" y="517.94" width="23.20" height="30.15" fill="#d8743a" opacity="0.6"/>
<rect x="111.22" y="517.94" width="19.95" height="29.28" fill="#b4601a" rx="0.5"/>
<rect x="111.22" y="534.11" width="19.95" height="13.11" fill="url(#yel)" rx="0.5"/>
<rect x="111.22" y="518.37" width="19.95" height="17.04" fill="url(#red)" rx="1.5"/>
<rect x="111.46" y="546.56" width="19.49" height="1.53" fill="#8a4a1a" opacity="0.6"/>
<rect x="133.80" y="505.70" width="22.20" height="43.70" fill="url(#tan)"/>
<rect x="140.46" y="506.57" width="8.88" height="10.92" fill="#c8baa6" opacity="0.5"/>
<rect x="133.80" y="517.50" width="22.20" height="30.59" fill="#d8743a" opacity="0.6"/>
<rect x="135.35" y="517.50" width="19.09" height="29.72" fill="#b4601a" rx="0.5"/>
<rect x="135.35" y="531.05" width="19.09" height="16.17" fill="url(#yel)" rx="0.5"/>
<rect x="138.24" y="517.94" width="12.21" height="14.42" fill="#961010" rx="2.5"/>
<rect x="135.58" y="546.56" width="18.65" height="1.53" fill="#8a4a1a" opacity="0.6"/>
<rect x="157.00" y="505.70" width="22.60" height="43.70" fill="url(#tan)"/>
<rect x="163.78" y="506.57" width="9.04" height="12.24" fill="#c8baa6" opacity="0.5"/>
<rect x="157.00" y="518.81" width="22.60" height="29.28" fill="#d8743a" opacity="0.6"/>
<rect x="158.58" y="518.81" width="19.44" height="28.40" fill="#a06c1c" rx="0.5"/>
<polygon points="166.49,525.37 176.89,527.55 176.89,546.34 166.49,546.34" fill="url(#yel)"/>
<polygon points="166.04,522.31 171.01,519.25 175.53,527.55 171.01,531.05" fill="#961010"/>
<rect x="158.81" y="546.56" width="18.98" height="1.53" fill="#8a4a1a" opacity="0.6"/>
<rect x="180.60" y="505.70" width="21.60" height="43.70" fill="url(#tan)"/>
<rect x="187.08" y="506.57" width="8.64" height="12.24" fill="#c8baa6" opacity="0.5"/>
<rect x="180.60" y="518.81" width="21.60" height="29.28" fill="#d8743a" opacity="0.6"/>
<rect x="182.11" y="518.81" width="18.58" height="28.40" fill="#a06c1c" rx="0.5"/>
<polygon points="190.32,525.37 199.61,526.68 199.61,546.34 190.97,546.34" fill="url(#yel)"/>
<polygon points="189.67,518.81 195.72,517.50 198.31,525.80 192.70,527.55" fill="#961010"/>
<rect x="182.33" y="546.56" width="18.14" height="1.53" fill="#8a4a1a" opacity="0.6"/>
<rect x="85.00" y="550.70" width="23.60" height="44.60" fill="url(#tan)"/>
<rect x="92.08" y="551.59" width="9.44" height="8.47" fill="#c8baa6" opacity="0.5"/>
<rect x="85.00" y="560.07" width="23.60" height="33.90" fill="#d8743a" opacity="0.6"/>
<rect x="86.65" y="560.07" width="20.30" height="32.56" fill="url(#red)" rx="0.5"/>
<rect x="86.89" y="592.40" width="19.82" height="1.56" fill="#8a4a1a" opacity="0.6"/>
<rect x="109.60" y="550.70" width="23.20" height="44.60" fill="url(#tan)"/>
<rect x="116.56" y="551.59" width="9.28" height="9.37" fill="#c8baa6" opacity="0.5"/>
<rect x="109.60" y="560.96" width="23.20" height="33.00" fill="#d8743a" opacity="0.6"/>
<rect x="111.22" y="560.96" width="19.95" height="31.67" fill="url(#red)" rx="0.5"/>
<rect x="111.46" y="592.40" width="19.49" height="1.56" fill="#8a4a1a" opacity="0.6"/>
<rect x="133.80" y="550.70" width="22.20" height="44.60" fill="url(#tan)"/>
<rect x="140.46" y="551.59" width="8.88" height="9.81" fill="#c8baa6" opacity="0.5"/>
<rect x="133.80" y="561.40" width="22.20" height="32.56" fill="#d8743a" opacity="0.6"/>
<rect x="135.35" y="561.40" width="19.09" height="31.22" fill="#e89a10" rx="0.5"/>
<rect x="135.35" y="561.40" width="19.09" height="25.42" fill="url(#red)" rx="1.5"/>
<rect x="135.58" y="592.40" width="18.65" height="1.56" fill="#8a4a1a" opacity="0.6"/>
<rect x="157.00" y="550.70" width="22.60" height="44.60" fill="url(#tan)"/>
<rect x="163.78" y="551.59" width="9.04" height="9.81" fill="#c8baa6" opacity="0.5"/>
<rect x="157.00" y="561.40" width="22.60" height="32.56" fill="#d8743a" opacity="0.6"/>
<rect x="158.58" y="561.40" width="19.44" height="31.22" fill="url(#yel)" rx="0.5"/>
<rect x="158.58" y="561.40" width="19.44" height="20.07" fill="url(#red)" rx="1.5"/>
<rect x="158.81" y="592.40" width="18.98" height="1.56" fill="#8a4a1a" opacity="0.6"/>
<rect x="180.60" y="550.70" width="21.60" height="44.60" fill="url(#tan)"/>
<rect x="187.08" y="551.59" width="8.64" height="9.81" fill="#c8baa6" opacity="0.5"/>
<rect x="180.60" y="561.40" width="21.60" height="32.56" fill="#d8743a" opacity="0.6"/>
<rect x="182.11" y="561.40" width="18.58" height="31.22" fill="url(#yel)" rx="0.5"/>
<rect x="182.11" y="561.40" width="18.58" height="17.39" fill="url(#red)" rx="1.5"/>
<rect x="182.33" y="592.40" width="18.14" height="1.56" fill="#8a4a1a" opacity="0.6"/>
</g>
<text x="235.00" y="443.60" font-size="12.6" text-anchor="start" font-weight="bold" fill="#000" stroke="#000" >G</text>
<line x1="284.50" y1="463.40" x2="284.50" y2="562.10" stroke="#231f20" stroke-width="1.1" />
<line x1="284.50" y1="561.60" x2="385.50" y2="561.60" stroke="#231f20" stroke-width="1.1" />
<line x1="281.80" y1="561.60" x2="284.50" y2="561.60" stroke="#231f20" stroke-width="1.0" />
<text x="279.20" y="564.70" font-size="8.6" text-anchor="end" font-weight="normal" fill="#111" stroke="#111" >0</text>
<line x1="281.80" y1="543.79" x2="284.50" y2="543.79" stroke="#231f20" stroke-width="1.0" />
<text x="279.20" y="546.89" font-size="8.6" text-anchor="end" font-weight="normal" fill="#111" stroke="#111" >20</text>
<line x1="281.80" y1="525.98" x2="284.50" y2="525.98" stroke="#231f20" stroke-width="1.0" />
<text x="279.20" y="529.08" font-size="8.6" text-anchor="end" font-weight="normal" fill="#111" stroke="#111" >40</text>
<line x1="281.80" y1="508.17" x2="284.50" y2="508.17" stroke="#231f20" stroke-width="1.0" />
<text x="279.20" y="511.27" font-size="8.6" text-anchor="end" font-weight="normal" fill="#111" stroke="#111" >60</text>
<line x1="281.80" y1="490.36" x2="284.50" y2="490.36" stroke="#231f20" stroke-width="1.0" />
<text x="279.20" y="493.46" font-size="8.6" text-anchor="end" font-weight="normal" fill="#111" stroke="#111" >80</text>
<line x1="281.80" y1="472.55" x2="284.50" y2="472.55" stroke="#231f20" stroke-width="1.0" />
<text x="279.20" y="475.65" font-size="8.6" text-anchor="end" font-weight="normal" fill="#111" stroke="#111" >100</text>
<line x1="284.50" y1="561.60" x2="284.50" y2="564.30" stroke="#231f20" stroke-width="1.0" />
<text x="284.50" y="575.60" font-size="8.6" text-anchor="middle" font-weight="normal" fill="#111" stroke="#111" >0</text>
<line x1="308.88" y1="561.60" x2="308.88" y2="564.30" stroke="#231f20" stroke-width="1.0" />
<text x="308.88" y="575.60" font-size="8.6" text-anchor="middle" font-weight="normal" fill="#111" stroke="#111" >15</text>
<line x1="333.26" y1="561.60" x2="333.26" y2="564.30" stroke="#231f20" stroke-width="1.0" />
<text x="333.26" y="575.60" font-size="8.6" text-anchor="middle" font-weight="normal" fill="#111" stroke="#111" >30</text>
<line x1="357.65" y1="561.60" x2="357.65" y2="564.30" stroke="#231f20" stroke-width="1.0" />
<text x="357.65" y="575.60" font-size="8.6" text-anchor="middle" font-weight="normal" fill="#111" stroke="#111" >45</text>
<line x1="382.03" y1="561.60" x2="382.03" y2="564.30" stroke="#231f20" stroke-width="1.0" />
<text x="382.03" y="575.60" font-size="8.6" text-anchor="middle" font-weight="normal" fill="#111" stroke="#111" >60</text>
<text x="335.00" y="588.60" font-size="10.3" text-anchor="middle" font-weight="bold" fill="#111" stroke="#111" textLength="33.6" lengthAdjust="spacingAndGlyphs" >Time (min)</text>
<text x="257.3" y="513" font-size="10.5" text-anchor="middle" fill="#111" stroke="#111" font-weight="bold" transform="rotate(-90 257.3 513)" textLength="47.6" lengthAdjust="spacingAndGlyphs">Clot size (mm<tspan font-size="5.5" dy="-3">2</tspan><tspan dy="3">)</tspan></text>
<polyline points="284.50,472.55 308.88,483.24 333.26,503.27 357.65,509.95 382.03,521.97" stroke="#c4c4c4" stroke-width="1.3" fill="none"/>
<polyline points="284.50,472.55 308.88,504.61 333.26,519.75 357.65,529.54 382.03,533.99" stroke="#c23a58" stroke-width="1.3" fill="none"/>
<polyline points="284.50,472.55 308.88,473.89 333.26,480.56 357.65,491.70 382.03,499.71" stroke="#2d7058" stroke-width="1.3" fill="none"/>
<line x1="333.26" y1="503.27" x2="333.26" y2="498.55" stroke="#3a3a3a" stroke-width="0.9" />
<line x1="331.87" y1="498.55" x2="334.66" y2="498.55" stroke="#3a3a3a" stroke-width="0.9" />
<line x1="357.65" y1="509.95" x2="357.65" y2="503.72" stroke="#3a3a3a" stroke-width="0.9" />
<line x1="356.25" y1="503.72" x2="359.05" y2="503.72" stroke="#3a3a3a" stroke-width="0.9" />
<line x1="382.03" y1="521.97" x2="382.03" y2="517.08" stroke="#3a3a3a" stroke-width="0.9" />
<line x1="380.63" y1="517.08" x2="383.43" y2="517.08" stroke="#3a3a3a" stroke-width="0.9" />
<line x1="308.88" y1="504.61" x2="308.88" y2="500.16" stroke="#8e1f3a" stroke-width="0.9" />
<line x1="307.48" y1="500.16" x2="310.28" y2="500.16" stroke="#8e1f3a" stroke-width="0.9" />
<line x1="333.26" y1="519.75" x2="333.26" y2="513.78" stroke="#8e1f3a" stroke-width="0.9" />
<line x1="331.87" y1="513.78" x2="334.66" y2="513.78" stroke="#8e1f3a" stroke-width="0.9" />
<line x1="357.65" y1="529.54" x2="357.65" y2="524.20" stroke="#8e1f3a" stroke-width="0.9" />
<line x1="356.25" y1="524.20" x2="359.05" y2="524.20" stroke="#8e1f3a" stroke-width="0.9" />
<line x1="382.03" y1="533.99" x2="382.03" y2="530.88" stroke="#8e1f3a" stroke-width="0.9" />
<line x1="380.63" y1="530.88" x2="383.43" y2="530.88" stroke="#8e1f3a" stroke-width="0.9" />
<line x1="308.88" y1="473.89" x2="308.88" y2="470.77" stroke="#1c4636" stroke-width="0.9" />
<line x1="307.48" y1="470.77" x2="310.28" y2="470.77" stroke="#1c4636" stroke-width="0.9" />
<line x1="333.26" y1="480.56" x2="333.26" y2="475.40" stroke="#1c4636" stroke-width="0.9" />
<line x1="331.87" y1="475.40" x2="334.66" y2="475.40" stroke="#1c4636" stroke-width="0.9" />
<line x1="357.65" y1="491.70" x2="357.65" y2="486.09" stroke="#1c4636" stroke-width="0.9" />
<line x1="356.25" y1="486.09" x2="359.05" y2="486.09" stroke="#1c4636" stroke-width="0.9" />
<line x1="382.03" y1="499.71" x2="382.03" y2="491.43" stroke="#1c4636" stroke-width="0.9" />
<line x1="380.63" y1="491.43" x2="383.43" y2="491.43" stroke="#1c4636" stroke-width="0.9" />
<circle cx="284.50" cy="472.55" r="2.90" stroke="#3a3a3a" stroke-width="1.2" fill="#ffffff"/>
<circle cx="308.88" cy="483.24" r="2.90" stroke="#3a3a3a" stroke-width="1.2" fill="#ffffff"/>
<circle cx="333.26" cy="503.27" r="2.90" stroke="#3a3a3a" stroke-width="1.2" fill="#ffffff"/>
<circle cx="357.65" cy="509.95" r="2.90" stroke="#3a3a3a" stroke-width="1.2" fill="#ffffff"/>
<circle cx="382.03" cy="521.97" r="2.90" stroke="#3a3a3a" stroke-width="1.2" fill="#ffffff"/>
<circle cx="284.50" cy="472.55" r="2.90" stroke="#8e1f3a" stroke-width="1.2" fill="#e07a8c"/>
<circle cx="308.88" cy="504.61" r="2.90" stroke="#8e1f3a" stroke-width="1.2" fill="#e07a8c"/>
<circle cx="333.26" cy="519.75" r="2.90" stroke="#8e1f3a" stroke-width="1.2" fill="#e07a8c"/>
<circle cx="357.65" cy="529.54" r="2.90" stroke="#8e1f3a" stroke-width="1.2" fill="#e07a8c"/>
<circle cx="382.03" cy="533.99" r="2.90" stroke="#8e1f3a" stroke-width="1.2" fill="#e07a8c"/>
<circle cx="284.50" cy="472.55" r="2.90" stroke="#1c4636" stroke-width="1.2" fill="#5e9c84"/>
<circle cx="308.88" cy="473.89" r="2.90" stroke="#1c4636" stroke-width="1.2" fill="#5e9c84"/>
<circle cx="333.26" cy="480.56" r="2.90" stroke="#1c4636" stroke-width="1.2" fill="#5e9c84"/>
<circle cx="357.65" cy="491.70" r="2.90" stroke="#1c4636" stroke-width="1.2" fill="#5e9c84"/>
<circle cx="382.03" cy="499.71" r="2.90" stroke="#1c4636" stroke-width="1.2" fill="#5e9c84"/>
<circle cx="284.50" cy="472.55" r="2.90" stroke="#3a3a3a" stroke-width="1.2" fill="#fff"/>
<circle cx="304.08" cy="466.00" r="1.05" fill="#2a6a54"/>
<circle cx="307.28" cy="466.00" r="1.05" fill="#2a6a54"/>
<circle cx="310.48" cy="466.00" r="1.05" fill="#2a6a54"/>
<circle cx="313.68" cy="466.00" r="1.05" fill="#2a6a54"/>
<circle cx="328.46" cy="470.80" r="1.05" fill="#2a6a54"/>
<circle cx="331.66" cy="470.80" r="1.05" fill="#2a6a54"/>
<circle cx="334.86" cy="470.80" r="1.05" fill="#2a6a54"/>
<circle cx="338.06" cy="470.80" r="1.05" fill="#2a6a54"/>
<circle cx="352.85" cy="481.50" r="1.05" fill="#2a6a54"/>
<circle cx="356.05" cy="481.50" r="1.05" fill="#2a6a54"/>
<circle cx="359.25" cy="481.50" r="1.05" fill="#2a6a54"/>
<circle cx="362.45" cy="481.50" r="1.05" fill="#2a6a54"/>
<circle cx="377.23" cy="487.00" r="1.05" fill="#2a6a54"/>
<circle cx="380.43" cy="487.00" r="1.05" fill="#2a6a54"/>
<circle cx="383.63" cy="487.00" r="1.05" fill="#2a6a54"/>
<circle cx="386.83" cy="487.00" r="1.05" fill="#2a6a54"/>
<circle cx="307.28" cy="513.20" r="1.05" fill="#c8405a"/>
<circle cx="310.48" cy="513.20" r="1.05" fill="#c8405a"/>
<circle cx="333.26" cy="529.20" r="1.05" fill="#c8405a"/>
<circle cx="356.05" cy="540.60" r="1.05" fill="#c8405a"/>
<circle cx="359.25" cy="540.60" r="1.05" fill="#c8405a"/>
<text x="382.03" y="548.40" font-size="7.8" text-anchor="middle" font-weight="normal" fill="#c8405a" stroke="#c8405a" >ns</text>
<line x1="412.80" y1="503.70" x2="424.00" y2="503.70" stroke="#a0a0a0" stroke-width="1.2" />
<circle cx="418.50" cy="503.70" r="2.60" stroke="#3a3a3a" stroke-width="0.9" fill="#fff"/>
<text x="428.40" y="506.60" font-size="8.0" text-anchor="start" font-weight="normal" fill="#111" stroke="#111" >Cont IgG</text>
<line x1="412.80" y1="517.50" x2="424.00" y2="517.50" stroke="#c23a58" stroke-width="1.2" />
<circle cx="418.50" cy="517.50" r="2.60" stroke="#8e1f3a" stroke-width="0.9" fill="#e8a0ae"/>
<text x="428.40" y="520.40" font-size="8.0" text-anchor="start" font-weight="normal" fill="#111" stroke="#111" >APS IgG</text>
<line x1="412.80" y1="531.30" x2="424.00" y2="531.30" stroke="#2d7058" stroke-width="1.2" />
<circle cx="418.50" cy="531.30" r="2.60" stroke="#1c4636" stroke-width="0.9" fill="#8fb8a8"/>
<text x="428.40" y="534.20" font-size="8.0" text-anchor="start" font-weight="normal" fill="#111" stroke="#111" >APS IgG +A<tspan font-size="5.2" dy="1.6">2A</tspan><tspan dy="-1.6">R-a</tspan></text>
<rect x="0.5" y="0.5" width="519" height="600" fill="none" stroke="#e6e6e6" stroke-width="1"/>
</svg>
</body></html>
